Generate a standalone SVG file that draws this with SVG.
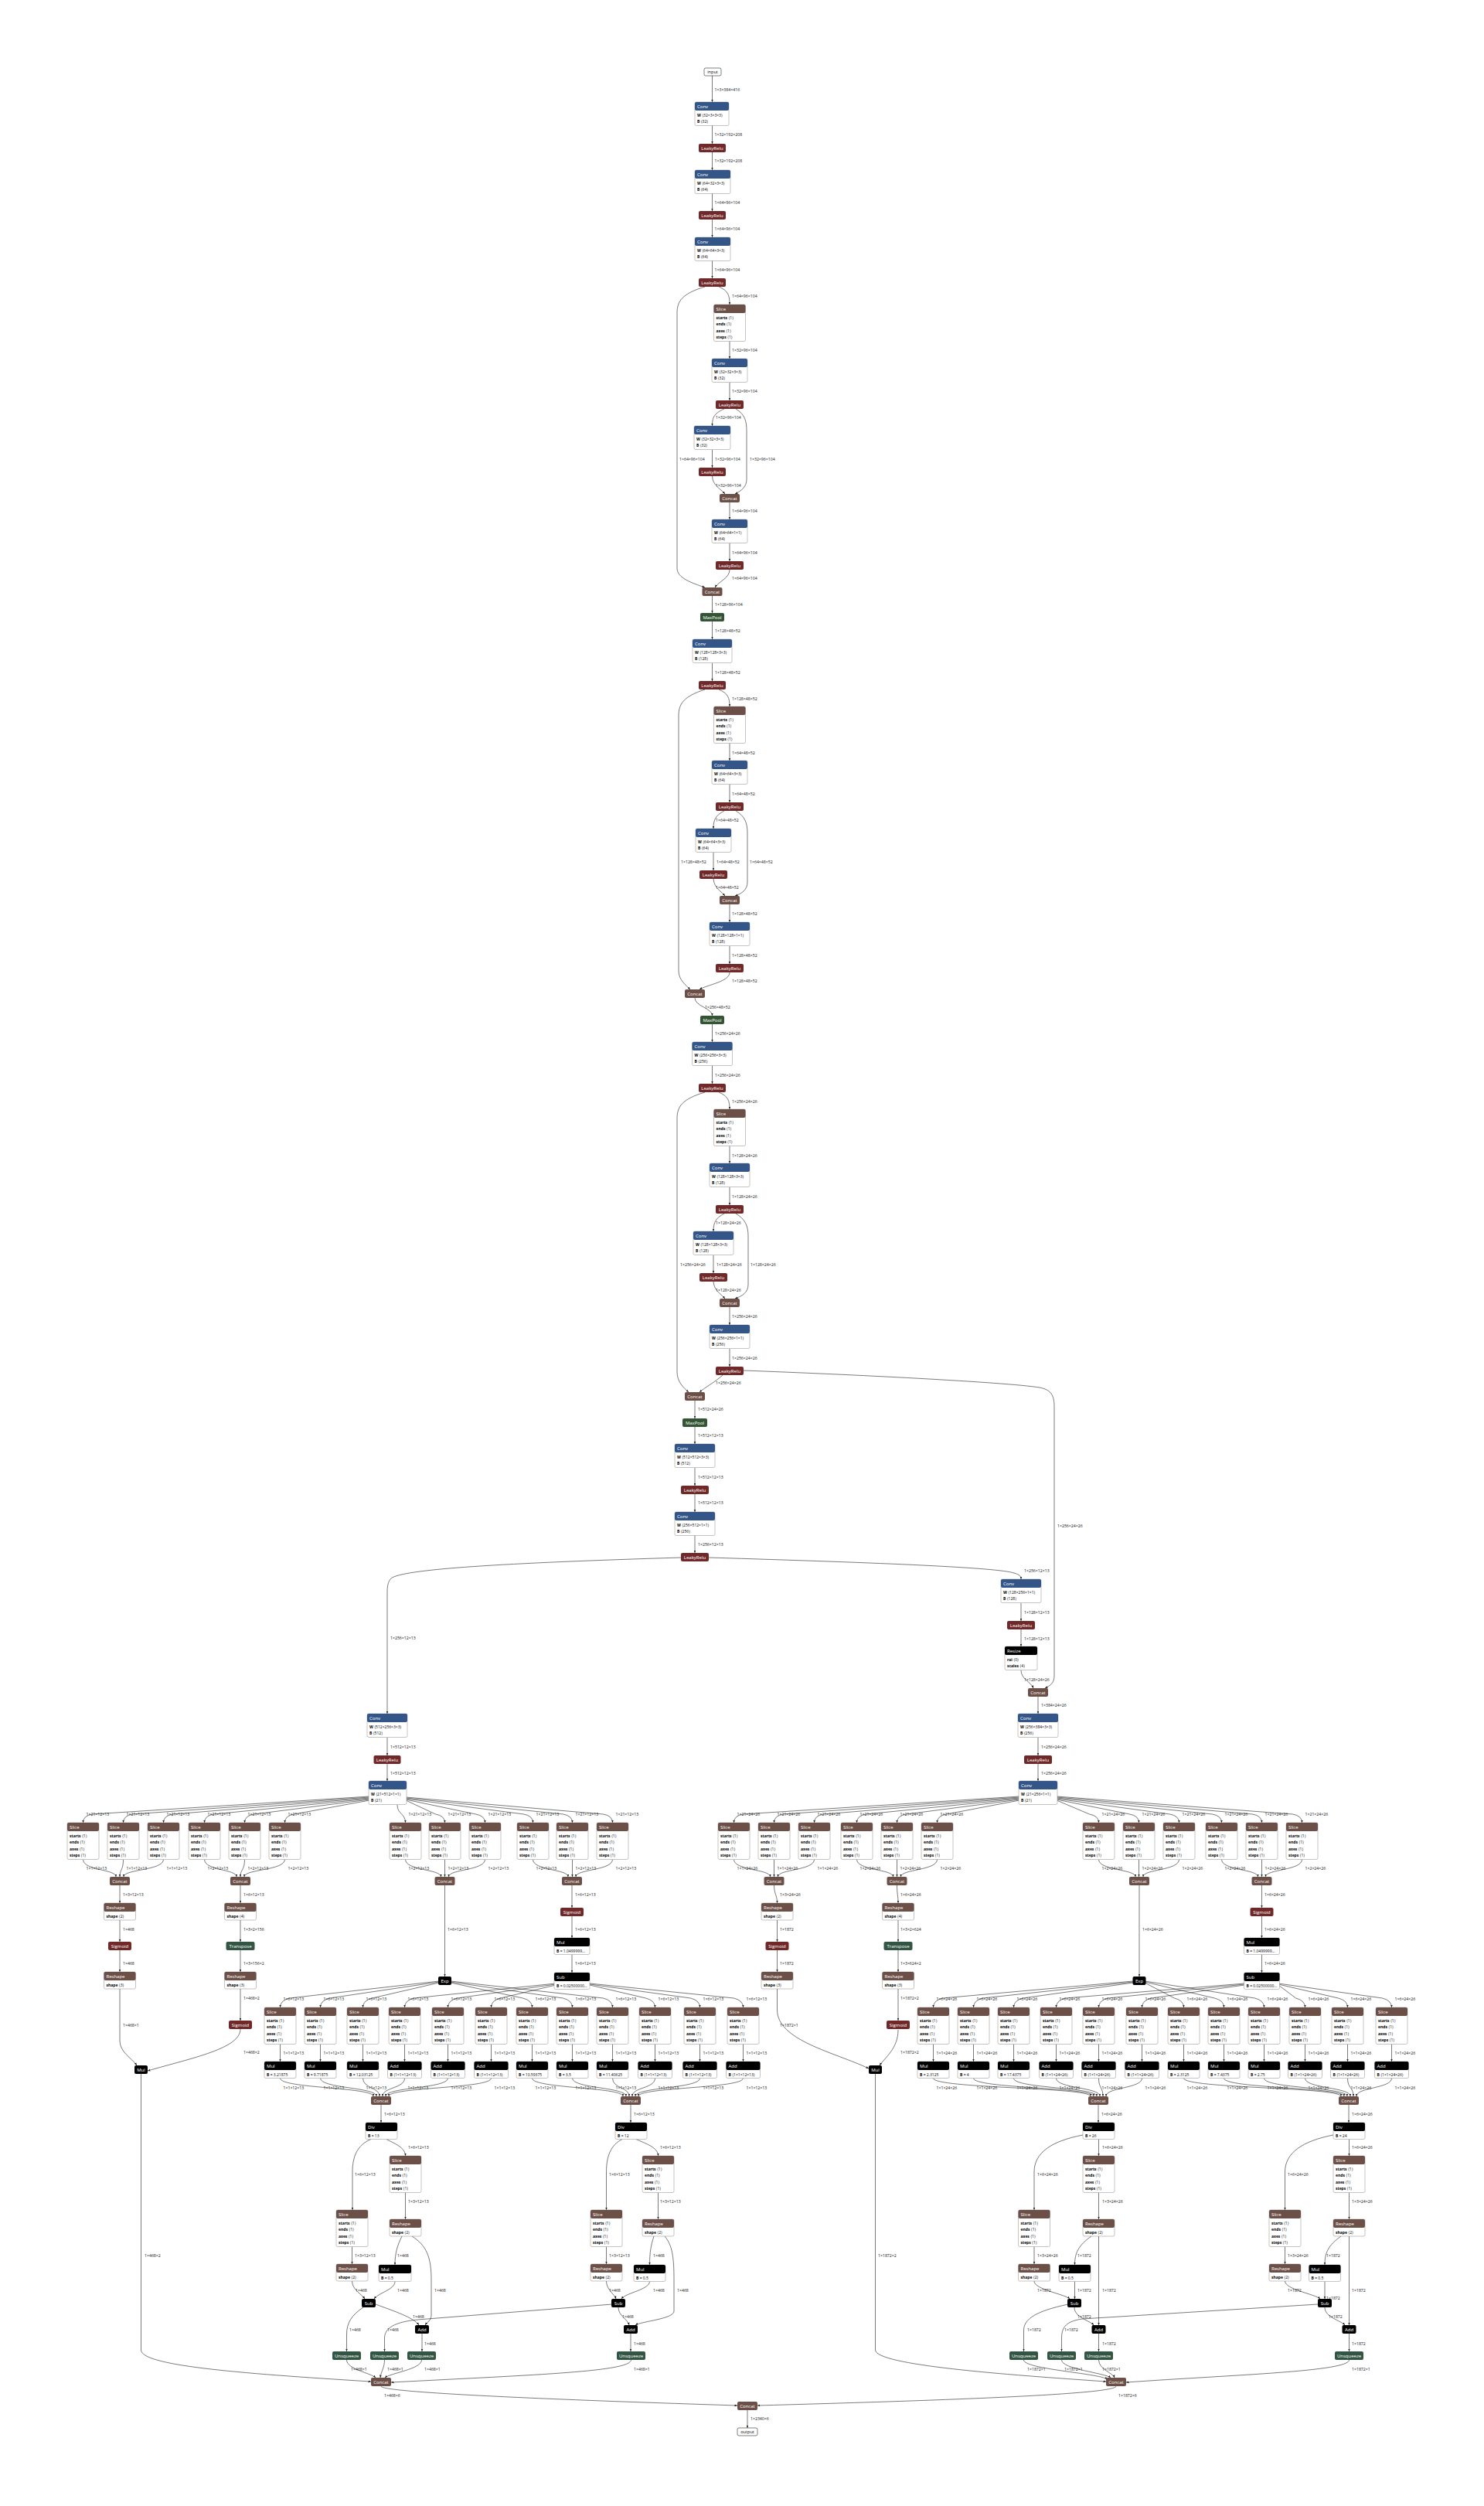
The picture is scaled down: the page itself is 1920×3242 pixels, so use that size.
<svg xmlns="http://www.w3.org/2000/svg" width="1920" height="3242" viewBox="0 0 1920 3242">
<style>
text{font-family:"Open Sans","Liberation Sans","DejaVu Sans",sans-serif}
.t{font-size:6px;fill:#fff}
.c{text-anchor:middle}
.a{font-size:5px;fill:#000}
.k{font-weight:bold}
.l{font-size:5.2px;fill:#111}
.b{fill:#fff;stroke:#888;stroke-width:.5}
.io{fill:#fff;stroke:#000;stroke-width:.5}
.cv{fill:#335588}.ac{fill:#702828}.sh{fill:#6c4f47}.po{fill:#335533}.tf{fill:#335544}.bk{fill:#000}
#edges path{fill:none;stroke:#222;stroke-width:.6;marker-end:url(#ar)}
</style>
<defs><marker id="ar" viewBox="0 0 10 10" refX="10" refY="5" markerWidth="3.5" markerHeight="3.5" markerUnits="userSpaceOnUse" orient="auto"><path d="M0 1L10 5L0 9z" fill="#222"/></marker></defs>
<rect width="1920" height="3242" fill="#fff"/>
<g id="edges">
<path d="M921.5 98V132"/><path d="M921.5 162V186"/><path d="M921.5 197V220"/><path d="M921.5 250V273"/><path d="M921.5 284V307"/><path d="M921.5 337V360"/>
<path d="M930 371C942 376 944 382 944 394"/>
<path d="M912 371C882 380 876 390 876 405V735C876 748 895 754 912 760"/>
<path d="M944 441.5V464"/><path d="M944 495V518"/>
<path d="M937 529C923 535 921.5 541 921.5 551"/>
<path d="M952 529C964 536 966 545 966 558V620C966 630 959 635 951 639"/>
<path d="M921.5 582V605"/>
<path d="M921.5 616C922 628 932 632 938 639"/>
<path d="M944 650V672"/><path d="M944 703V726"/>
<path d="M944 737C944 748 930 752 925 760"/>
<path d="M921.5 771V793"/><path d="M921.5 804V827"/>
<path d="M921.5 858V881"/>
<path d="M930 892C942 897 944 903 944 914"/>
<path d="M912 892C884 901 878 911 878 926V1256C878 1268 888 1275 893 1280"/>
<path d="M944 961.5V984"/><path d="M944 1015V1038"/>
<path d="M937 1049C925 1055 923 1062 923 1072"/>
<path d="M952 1049C964 1056 967 1065 967 1078V1141C967 1151 960 1156 951 1159"/>
<path d="M923 1103V1126"/>
<path d="M923 1137C924 1149 933 1153 938 1159"/>
<path d="M944 1170V1193"/><path d="M944 1224V1247"/>
<path d="M944 1258C944 1270 915 1274 905 1280"/>
<path d="M899 1291C899 1302 921.5 1304 921.5 1314"/>
<path d="M921.5 1325V1348"/>
<path d="M921.5 1379V1402"/>
<path d="M930 1413C942 1418 944 1424 944 1435"/>
<path d="M912 1413C882 1422 876 1432 876 1447V1775C876 1788 885 1796 891 1801"/>
<path d="M944 1482.5V1505"/><path d="M944 1536V1559"/>
<path d="M937 1570C925 1576 923 1583 923 1593"/>
<path d="M952 1570C964 1577 968 1586 968 1599V1662C968 1672 960 1677 951 1680"/>
<path d="M923 1624V1647"/>
<path d="M923 1658C924 1670 933 1674 938 1680"/>
<path d="M944 1691V1714"/><path d="M944 1745V1768"/>
<path d="M935 1779C925 1788 912 1795 905 1801"/>
<path d="M962 1773C1100 1778 1300 1788 1345 1795C1360 1798 1364 1805 1364 1820V2168C1364 2178 1358 2181 1352 2184"/>
<path d="M899 1812V1835"/><path d="M899 1846V1868"/><path d="M899 1899V1922"/><path d="M899 1933V1956"/><path d="M899 1986V2009"/>
<path d="M881 2015C650 2022 520 2030 506 2042C502 2046 501 2052 501 2060V2217"/>
<path d="M917 2015C1150 2022 1290 2028 1312 2035C1319 2037 1321 2039 1321 2043"/>
<path d="M501 2248V2271"/><path d="M501 2282V2304"/>
<path d="M1321 2074V2097"/><path d="M1321 2108V2130"/>
<path d="M1321 2161C1321 2172 1334 2176 1337 2184"/>
<path d="M1343 2195V2217"/><path d="M1343 2248V2271"/><path d="M1343 2282V2304"/>
<path d="M478 2324L119.5 2347Q107.5 2349 107.5 2358"/>
<path d="M478 2325L171.5 2347Q159.5 2349 159.5 2358"/>
<path d="M478 2326L223.5 2347Q211.5 2349 211.5 2358"/>
<path d="M478 2327L276.5 2347Q264.5 2349 264.5 2358"/>
<path d="M478 2328L328.5 2347Q316.5 2349 316.5 2358"/>
<path d="M478 2329L380.5 2347Q368.5 2349 368.5 2358"/>
<path d="M514 2335C514 2347 524.5 2346 524.5 2358"/>
<path d="M525 2329L563.5 2347Q575.5 2349 575.5 2358"/>
<path d="M525 2328L615.5 2347Q627.5 2349 627.5 2358"/>
<path d="M525 2327L677.5 2347Q689.5 2349 689.5 2358"/>
<path d="M525 2326L728.5 2347Q740.5 2349 740.5 2358"/>
<path d="M525 2325L780.5 2347Q792.5 2349 792.5 2358"/>
<path d="M1319 2324L961.5 2347Q949.5 2349 949.5 2358"/>
<path d="M1319 2325L1013.5 2347Q1001.5 2349 1001.5 2358"/>
<path d="M1319 2326L1065.5 2347Q1053.5 2349 1053.5 2358"/>
<path d="M1319 2327L1120.5 2347Q1108.5 2349 1108.5 2358"/>
<path d="M1319 2328L1172.5 2347Q1160.5 2349 1160.5 2358"/>
<path d="M1319 2329L1224.5 2347Q1212.5 2349 1212.5 2358"/>
<path d="M1367 2329L1409.5 2347Q1421.5 2349 1421.5 2358"/>
<path d="M1367 2328L1461.5 2347Q1473.5 2349 1473.5 2358"/>
<path d="M1367 2327L1513.5 2347Q1525.5 2349 1525.5 2358"/>
<path d="M1367 2326L1568.5 2347Q1580.5 2349 1580.5 2358"/>
<path d="M1367 2325L1620.5 2347Q1632.5 2349 1632.5 2358"/>
<path d="M1367 2324L1672.5 2347Q1684.5 2349 1684.5 2358"/>
<path d="M107.5 2405.5C107.5 2420 150 2418 150 2428"/>
<path d="M159.5 2405.5C159.5 2420 155 2418 155 2428"/>
<path d="M211.5 2405.5C211.5 2420 160 2418 160 2428"/>
<path d="M264.5 2405.5C264.5 2420 306 2418 306 2428"/>
<path d="M316.5 2405.5C316.5 2420 311 2418 311 2428"/>
<path d="M368.5 2405.5C368.5 2420 316 2418 316 2428"/>
<path d="M524.5 2405.5C524.5 2420 570.5 2418 570.5 2428"/>
<path d="M575.5 2405.5V2428"/>
<path d="M627.5 2405.5C627.5 2420 580.5 2418 580.5 2428"/>
<path d="M689.5 2405.5C689.5 2420 735 2418 735 2428"/>
<path d="M740.5 2405.5V2428"/>
<path d="M792.5 2405.5C792.5 2420 745 2418 745 2428"/>
<path d="M949.5 2405.5C949.5 2420 996.5 2418 996.5 2428"/>
<path d="M1001.5 2405.5V2428"/>
<path d="M1053.5 2405.5C1053.5 2420 1006.5 2418 1006.5 2428"/>
<path d="M1108.5 2405.5C1108.5 2420 1155.5 2418 1155.5 2428"/>
<path d="M1160.5 2405.5V2428"/>
<path d="M1212.5 2405.5C1212.5 2420 1165.5 2418 1165.5 2428"/>
<path d="M1421.5 2405.5C1421.5 2420 1469 2418 1469 2428"/>
<path d="M1473.5 2405.5V2428"/>
<path d="M1525.5 2405.5C1525.5 2420 1479 2418 1479 2428"/>
<path d="M1580.5 2405.5C1580.5 2420 1627.5 2418 1627.5 2428"/>
<path d="M1632.5 2405.5V2428"/>
<path d="M1684.5 2405.5C1684.5 2420 1637.5 2418 1637.5 2428"/>
<path d="M155 2439V2462"/><path d="M155 2484V2512"/><path d="M155 2523V2551"/>
<path d="M155 2573V2640C155 2655 170 2662 177 2672"/>
<path d="M311 2439V2462"/><path d="M311 2484V2512"/><path d="M311 2523V2551"/><path d="M311 2573V2614"/>
<path d="M311 2625C311 2650 250 2662 191 2679"/>
<path d="M575.5 2439V2557"/>
<path d="M740 2439V2468"/><path d="M740 2479V2507"/><path d="M740 2528.5V2552"/>
<path d="M182.5 2683V3040C182.5 3060 300 3070 480 3081"/>
<path d="M1001.5 2439C1001.5 2450 1005.5 2452 1005.5 2462"/>
<path d="M1005.5 2484V2512"/><path d="M1005.5 2523V2551"/>
<path d="M1005.5 2573V2600C1005.5 2640 1080 2655 1124 2676"/>
<path d="M1160.5 2439C1160.5 2450 1162 2452 1162 2462"/>
<path d="M1162 2484V2512"/><path d="M1162 2523V2551"/><path d="M1162 2573V2614"/>
<path d="M1162 2626C1162 2650 1145 2662 1138 2672"/>
<path d="M1474 2439V2557"/>
<path d="M1632.5 2439V2468"/><path d="M1632.5 2479V2507"/><path d="M1632.5 2528.5V2552"/>
<path d="M1132.5 2683V3040C1132.5 3060 1300 3072 1431 3081"/>
<path d="M568 2563L374.5 2585Q362.5 2588 362.5 2597"/>
<path d="M568 2564L426.5 2585Q414.5 2588 414.5 2597"/>
<path d="M568 2565L481.5 2585Q469.5 2588 469.5 2597"/>
<path d="M583 2565L676.5 2585Q688.5 2588 688.5 2597"/>
<path d="M583 2564L728.5 2585Q740.5 2588 740.5 2597"/>
<path d="M583 2563L780.5 2585Q792.5 2588 792.5 2597"/>
<path d="M719 2566L535.5 2585Q523.5 2588 523.5 2597"/>
<path d="M719 2567L591.5 2585Q579.5 2588 579.5 2597"/>
<path d="M719 2568L647.5 2585Q635.5 2588 635.5 2597"/>
<path d="M763 2568L835.5 2585Q847.5 2588 847.5 2597"/>
<path d="M763 2567L893.5 2585Q905.5 2588 905.5 2597"/>
<path d="M763 2566L949.5 2585Q961.5 2588 961.5 2597"/>
<path d="M1466 2563L1219.5 2585Q1207.5 2588 1207.5 2597"/>
<path d="M1466 2564L1271.5 2585Q1259.5 2588 1259.5 2597"/>
<path d="M1466 2565L1323.5 2585Q1311.5 2588 1311.5 2597"/>
<path d="M1481 2565L1519.5 2585Q1531.5 2588 1531.5 2597"/>
<path d="M1481 2564L1571.5 2585Q1583.5 2588 1583.5 2597"/>
<path d="M1481 2563L1623.5 2585Q1635.5 2588 1635.5 2597"/>
<path d="M1610 2566L1378.5 2585Q1366.5 2588 1366.5 2597"/>
<path d="M1610 2567L1433.5 2585Q1421.5 2588 1421.5 2597"/>
<path d="M1610 2568L1489.5 2585Q1477.5 2588 1477.5 2597"/>
<path d="M1654 2568L1676.5 2585Q1688.5 2588 1688.5 2597"/>
<path d="M1654 2567L1731.5 2585Q1743.5 2588 1743.5 2597"/>
<path d="M1654 2566L1788.5 2585Q1800.5 2588 1800.5 2597"/>
<path d="M362.5 2644.5V2667"/><path d="M414.5 2644.5V2667"/><path d="M469.5 2644.5V2667"/><path d="M523.5 2644.5V2667"/><path d="M579.5 2644.5V2667"/><path d="M635.5 2644.5V2667"/><path d="M688.5 2644.5V2667"/><path d="M740.5 2644.5V2667"/><path d="M792.5 2644.5V2667"/><path d="M847.5 2644.5V2667"/><path d="M905.5 2644.5V2667"/><path d="M961.5 2644.5V2667"/>
<path d="M1207.5 2644.5V2667"/><path d="M1259.5 2644.5V2667"/><path d="M1311.5 2644.5V2667"/><path d="M1366.5 2644.5V2667"/><path d="M1421.5 2644.5V2667"/><path d="M1477.5 2644.5V2667"/><path d="M1531.5 2644.5V2667"/><path d="M1583.5 2644.5V2667"/><path d="M1635.5 2644.5V2667"/><path d="M1688.5 2644.5V2667"/><path d="M1743.5 2644.5V2667"/><path d="M1800.5 2644.5V2667"/>
<path d="M362.5 2688.5C362.5 2702 483 2700 483 2712"/>
<path d="M414.5 2688.5C414.5 2702 487 2700 487 2712"/>
<path d="M469.5 2688.5C469.5 2702 491 2700 491 2712"/>
<path d="M523.5 2688.5C523.5 2702 495 2700 495 2712"/>
<path d="M579.5 2688.5C579.5 2702 499 2700 499 2712"/>
<path d="M635.5 2688.5C635.5 2702 503 2700 503 2712"/>
<path d="M688.5 2688.5C688.5 2702 806 2700 806 2712"/>
<path d="M740.5 2688.5C740.5 2702 810 2700 810 2712"/>
<path d="M792.5 2688.5C792.5 2702 814 2700 814 2712"/>
<path d="M847.5 2688.5C847.5 2702 818 2700 818 2712"/>
<path d="M905.5 2688.5C905.5 2702 822 2700 822 2712"/>
<path d="M961.5 2688.5C961.5 2702 826 2700 826 2712"/>
<path d="M1207.5 2688.5C1207.5 2702 1411 2700 1411 2712"/>
<path d="M1259.5 2688.5C1259.5 2702 1415 2700 1415 2712"/>
<path d="M1311.5 2688.5C1311.5 2702 1419 2700 1419 2712"/>
<path d="M1366.5 2688.5C1366.5 2702 1423 2700 1423 2712"/>
<path d="M1421.5 2688.5C1421.5 2702 1427 2700 1427 2712"/>
<path d="M1477.5 2688.5C1477.5 2702 1431 2700 1431 2712"/>
<path d="M1531.5 2688.5C1531.5 2702 1735 2700 1735 2712"/>
<path d="M1583.5 2688.5C1583.5 2702 1739 2700 1739 2712"/>
<path d="M1635.5 2688.5C1635.5 2702 1743 2700 1743 2712"/>
<path d="M1688.5 2688.5C1688.5 2702 1747 2700 1747 2712"/>
<path d="M1743.5 2688.5C1743.5 2702 1751 2700 1751 2712"/>
<path d="M1800.5 2688.5C1800.5 2702 1755 2700 1755 2712"/>
<path d="M493 2723V2746"/><path d="M816 2723V2746"/><path d="M1421 2723V2746"/><path d="M1745 2723V2746"/>
<path d="M500 2767.5C510 2773 524.5 2778 524.5 2789"/>
<path d="M480 2767.5C462 2775 456 2790 456 2810V2859"/>
<path d="M524.5 2836.5V2871"/><path d="M455.5 2906.5V2929"/>
<path d="M520 2893C514 2905 511 2915 511 2930"/>
<path d="M533 2893C552 2905 558 2920 558 2950V2995C558 3002 552 3005 550 3008"/>
<path d="M455.5 2951C455.5 2962 468 2968 472 2974"/>
<path d="M511 2951.5C511 2962 490 2966 484 2974"/>
<path d="M470 2985C455 2995 448.5 3005 448.5 3020V3042"/>
<path d="M486 2981C510 2990 535 2998 542 3008"/>
<path d="M792 2981L540 3001C510 3004 497.5 3012 497.5 3025V3042"/>
<path d="M546 3019V3042"/>
<path d="M448.5 3053C448.5 3065 480 3070 486 3076"/>
<path d="M497.5 3053C497.5 3063 493 3068 492 3076"/>
<path d="M545.5 3053C545.5 3065 505 3070 498 3076"/>
<path d="M816.5 3053C816 3068 700 3072 506 3082"/>
<path d="M493 3087C493 3095 700 3104 954 3112"/>
<path d="M823 2767.5C835 2773 851.5 2778 851.5 2789"/>
<path d="M805 2767.5C790 2775 784.5 2790 784.5 2810V2859"/>
<path d="M851.5 2836.5V2871"/><path d="M784.5 2906.5V2929"/>
<path d="M846 2893C842 2905 840.5 2915 840.5 2930"/>
<path d="M860 2893C870 2905 872 2920 872 2950V2990C872 3000 830 3003 822 3008"/>
<path d="M784.5 2951C784.5 2962 795 2968 797 2974"/>
<path d="M840.5 2951.5C840.5 2962 810 2966 804 2974"/>
<path d="M800 2985C800 2996 812 3000 814 3008"/>
<path d="M816 3019V3042"/>
<path d="M1421.5 2767.5V2789"/>
<path d="M1401 2762C1360 2770 1338 2785 1338 2810V2859"/>
<path d="M1421.5 2836.5V2871"/><path d="M1338 2906.5V2929"/>
<path d="M1412 2893C1395 2905 1390.5 2915 1390.5 2930"/>
<path d="M1421.5 2893V3008"/>
<path d="M1338 2951C1338 2962 1378 2968 1384 2974"/>
<path d="M1390.5 2951.5V2974"/>
<path d="M1390 2985C1390 2998 1410 3002 1415 3008"/>
<path d="M1382 2981C1340 2990 1324.5 3000 1324.5 3015V3042"/>
<path d="M1705 2981L1400 3000C1380 3003 1373.5 3010 1373.5 3025V3042"/>
<path d="M1421.5 3019V3042"/>
<path d="M1324.5 3053C1324.5 3065 1420 3070 1433 3078"/>
<path d="M1373.5 3053C1373.5 3065 1430 3070 1437 3076"/>
<path d="M1421.5 3053C1421.5 3065 1440 3070 1442 3076"/>
<path d="M1745.5 3053C1745.5 3068 1600 3072 1457 3082"/>
<path d="M1444 3087C1444 3098 1200 3106 980 3112"/>
<path d="M967 3118V3141"/>
<path d="M1745.5 2767.5V2789"/>
<path d="M1725 2762C1685 2770 1662.5 2785 1662.5 2810V2859"/>
<path d="M1745.5 2836.5V2871"/><path d="M1662.5 2906.5V2929"/>
<path d="M1735 2893C1718 2905 1714 2915 1714 2930"/>
<path d="M1745.5 2893V3008"/>
<path d="M1662.5 2951C1662.5 2962 1702 2968 1708 2974"/>
<path d="M1714 2951.5V2974"/>
<path d="M1714 2985C1714 2998 1735 3002 1740 3008"/>
<path d="M1745.5 3019V3042"/>
</g>
<g id="edge-labels" class="l">
<text x="924.5" y="118">1×3×384×416</text><text x="924.5" y="176">1×32×192×208</text><text x="924.5" y="210">1×32×192×208</text><text x="924.5" y="264">1×64×96×104</text><text x="924.5" y="298">1×64×96×104</text><text x="924.5" y="351">1×64×96×104</text>
<text x="947" y="385">1×64×96×104</text><text x="879" y="596">1×64×96×104</text><text x="947" y="455">1×32×96×104</text><text x="947" y="508">1×32×96×104</text><text x="926" y="542">1×32×96×104</text><text x="970" y="596">1×32×96×104</text><text x="925" y="596">1×32×96×104</text><text x="926" y="630">1×32×96×104</text><text x="947" y="663">1×64×96×104</text><text x="947" y="717">1×64×96×104</text><text x="947" y="750">1×64×96×104</text><text x="925" y="784">1×128×96×104</text><text x="925" y="818">1×128×48×52</text>
<text x="925" y="872">1×128×48×52</text><text x="947" y="906">1×128×48×52</text><text x="881" y="1117">1×128×48×52</text><text x="947" y="976">1×64×48×52</text><text x="947" y="1029">1×64×48×52</text><text x="926" y="1063">1×64×48×52</text><text x="970" y="1117">1×64×48×52</text><text x="927" y="1117">1×64×48×52</text><text x="926" y="1150">1×64×48×52</text><text x="947" y="1184">1×128×48×52</text><text x="947" y="1238">1×128×48×52</text><text x="947" y="1271">1×128×48×52</text><text x="912" y="1305">1×256×48×52</text><text x="925" y="1339">1×256×24×26</text>
<text x="925" y="1393">1×256×24×26</text><text x="947" y="1427">1×256×24×26</text><text x="880" y="1638">1×256×24×26</text><text x="947" y="1497">1×128×24×26</text><text x="947" y="1550">1×128×24×26</text><text x="926" y="1584">1×128×24×26</text><text x="971" y="1638">1×128×24×26</text><text x="927" y="1638">1×128×24×26</text><text x="926" y="1671">1×128×24×26</text><text x="947" y="1705">1×256×24×26</text><text x="947" y="1759">1×256×24×26</text><text x="926" y="1791">1×256×24×26</text><text x="1368" y="1976">1×256×24×26</text>
<text x="903" y="1825">1×512×24×26</text><text x="903" y="1859">1×512×12×13</text><text x="903" y="1913">1×512×12×13</text><text x="903" y="1946">1×512×12×13</text><text x="903" y="2000">1×256×12×13</text><text x="505" y="2121">1×256×12×13</text><text x="1325" y="2034">1×256×12×13</text>
<text x="505" y="2262">1×512×12×13</text><text x="505" y="2296">1×512×12×13</text><text x="1325" y="2088">1×128×12×13</text><text x="1325" y="2122">1×128×12×13</text><text x="1325" y="2175">1×128×24×26</text><text x="1347" y="2208">1×384×24×26</text><text x="1347" y="2262">1×256×24×26</text><text x="1347" y="2296">1×256×24×26</text>
<text x="111.5" y="2349">1×21×12×13</text><text x="163.5" y="2349">1×21×12×13</text><text x="215.5" y="2349">1×21×12×13</text><text x="268.5" y="2349">1×21×12×13</text><text x="320.5" y="2349">1×21×12×13</text><text x="372.5" y="2349">1×21×12×13</text><text x="528.5" y="2349">1×21×12×13</text><text x="579.5" y="2349">1×21×12×13</text><text x="631.5" y="2349">1×21×12×13</text><text x="693.5" y="2349">1×21×12×13</text><text x="744.5" y="2349">1×21×12×13</text><text x="796.5" y="2349">1×21×12×13</text>
<text x="953.5" y="2349">1×21×24×26</text><text x="1005.5" y="2349">1×21×24×26</text><text x="1057.5" y="2349">1×21×24×26</text><text x="1112.5" y="2349">1×21×24×26</text><text x="1164.5" y="2349">1×21×24×26</text><text x="1216.5" y="2349">1×21×24×26</text><text x="1425.5" y="2349">1×21×24×26</text><text x="1477.5" y="2349">1×21×24×26</text><text x="1529.5" y="2349">1×21×24×26</text><text x="1584.5" y="2349">1×21×24×26</text><text x="1636.5" y="2349">1×21×24×26</text><text x="1688.5" y="2349">1×21×24×26</text>
<text x="111.5" y="2419">1×1×12×13</text><text x="163.5" y="2419">1×1×12×13</text><text x="215.5" y="2419">1×1×12×13</text><text x="268.5" y="2419">1×2×12×13</text><text x="320.5" y="2419">1×2×12×13</text><text x="372.5" y="2419">1×2×12×13</text><text x="528.5" y="2419">1×2×12×13</text><text x="579.5" y="2419">1×2×12×13</text><text x="631.5" y="2419">1×2×12×13</text><text x="693.5" y="2419">1×2×12×13</text><text x="744.5" y="2419">1×2×12×13</text><text x="796.5" y="2419">1×2×12×13</text>
<text x="953.5" y="2419">1×1×24×26</text><text x="1005.5" y="2419">1×1×24×26</text><text x="1057.5" y="2419">1×1×24×26</text><text x="1112.5" y="2419">1×2×24×26</text><text x="1164.5" y="2419">1×2×24×26</text><text x="1216.5" y="2419">1×2×24×26</text><text x="1425.5" y="2419">1×2×24×26</text><text x="1477.5" y="2419">1×2×24×26</text><text x="1529.5" y="2419">1×2×24×26</text><text x="1584.5" y="2419">1×2×24×26</text><text x="1636.5" y="2419">1×2×24×26</text><text x="1688.5" y="2419">1×2×24×26</text>
<text x="159" y="2453">1×3×12×13</text><text x="159" y="2498">1×468</text><text x="159" y="2542">1×468</text><text x="159" y="2622">1×468×1</text>
<text x="315" y="2453">1×6×12×13</text><text x="315" y="2498">1×3×2×156</text><text x="315" y="2542">1×3×156×2</text><text x="315" y="2587">1×468×2</text><text x="315" y="2657">1×468×2</text>
<text x="579" y="2498">1×6×12×13</text><text x="744" y="2453">1×6×12×13</text><text x="744" y="2498">1×6×12×13</text><text x="744" y="2542">1×6×12×13</text><text x="187" y="2920">1×468×2</text>
<text x="1009" y="2453">1×3×24×26</text><text x="1009" y="2498">1×1872</text><text x="1009" y="2542">1×1872</text><text x="1009" y="2622">1×1872×1</text>
<text x="1165" y="2453">1×6×24×26</text><text x="1165" y="2498">1×3×2×624</text><text x="1165" y="2542">1×3×624×2</text><text x="1165" y="2587">1×1872×2</text><text x="1165" y="2657">1×1872×2</text>
<text x="1478" y="2498">1×6×24×26</text><text x="1636" y="2453">1×6×24×26</text><text x="1636" y="2498">1×6×24×26</text><text x="1636" y="2542">1×6×24×26</text><text x="1136" y="2920">1×1872×2</text>
<text x="366.5" y="2588">1×6×12×13</text><text x="418.5" y="2588">1×6×12×13</text><text x="473.5" y="2588">1×6×12×13</text><text x="527.5" y="2588">1×6×12×13</text><text x="583.5" y="2588">1×6×12×13</text><text x="639.5" y="2588">1×6×12×13</text><text x="692.5" y="2588">1×6×12×13</text><text x="744.5" y="2588">1×6×12×13</text><text x="796.5" y="2588">1×6×12×13</text><text x="851.5" y="2588">1×6×12×13</text><text x="909.5" y="2588">1×6×12×13</text><text x="965.5" y="2588">1×6×12×13</text>
<text x="366.5" y="2658">1×1×12×13</text><text x="418.5" y="2658">1×1×12×13</text><text x="473.5" y="2658">1×1×12×13</text><text x="527.5" y="2658">1×1×12×13</text><text x="583.5" y="2658">1×1×12×13</text><text x="639.5" y="2658">1×1×12×13</text><text x="692.5" y="2658">1×1×12×13</text><text x="744.5" y="2658">1×1×12×13</text><text x="796.5" y="2658">1×1×12×13</text><text x="851.5" y="2658">1×1×12×13</text><text x="909.5" y="2658">1×1×12×13</text><text x="965.5" y="2658">1×1×12×13</text>
<text x="366.5" y="2703">1×1×12×13</text><text x="418.5" y="2703">1×1×12×13</text><text x="473.5" y="2703">1×1×12×13</text><text x="527.5" y="2703">1×1×12×13</text><text x="583.5" y="2703">1×1×12×13</text><text x="639.5" y="2703">1×1×12×13</text><text x="692.5" y="2703">1×1×12×13</text><text x="744.5" y="2703">1×1×12×13</text><text x="796.5" y="2703">1×1×12×13</text><text x="851.5" y="2703">1×1×12×13</text><text x="909.5" y="2703">1×1×12×13</text><text x="965.5" y="2703">1×1×12×13</text>
<text x="1211.5" y="2588">1×6×24×26</text><text x="1263.5" y="2588">1×6×24×26</text><text x="1315.5" y="2588">1×6×24×26</text><text x="1370.5" y="2588">1×6×24×26</text><text x="1425.5" y="2588">1×6×24×26</text><text x="1481.5" y="2588">1×6×24×26</text><text x="1535.5" y="2588">1×6×24×26</text><text x="1587.5" y="2588">1×6×24×26</text><text x="1639.5" y="2588">1×6×24×26</text><text x="1692.5" y="2588">1×6×24×26</text><text x="1747.5" y="2588">1×6×24×26</text><text x="1804.5" y="2588">1×6×24×26</text>
<text x="1211.5" y="2658">1×1×24×26</text><text x="1263.5" y="2658">1×1×24×26</text><text x="1315.5" y="2658">1×1×24×26</text><text x="1370.5" y="2658">1×1×24×26</text><text x="1425.5" y="2658">1×1×24×26</text><text x="1481.5" y="2658">1×1×24×26</text><text x="1535.5" y="2658">1×1×24×26</text><text x="1587.5" y="2658">1×1×24×26</text><text x="1639.5" y="2658">1×1×24×26</text><text x="1692.5" y="2658">1×1×24×26</text><text x="1747.5" y="2658">1×1×24×26</text><text x="1804.5" y="2658">1×1×24×26</text>
<text x="1211.5" y="2703">1×1×24×26</text><text x="1263.5" y="2703">1×1×24×26</text><text x="1315.5" y="2703">1×1×24×26</text><text x="1370.5" y="2703">1×1×24×26</text><text x="1425.5" y="2703">1×1×24×26</text><text x="1481.5" y="2703">1×1×24×26</text><text x="1535.5" y="2703">1×1×24×26</text><text x="1587.5" y="2703">1×1×24×26</text><text x="1639.5" y="2703">1×1×24×26</text><text x="1692.5" y="2703">1×1×24×26</text><text x="1747.5" y="2703">1×1×24×26</text><text x="1804.5" y="2703">1×1×24×26</text>
<text x="497" y="2737">1×6×12×13</text><text x="820" y="2737">1×6×12×13</text><text x="1425" y="2737">1×6×24×26</text><text x="1749" y="2737">1×6×24×26</text>
<text x="528" y="2780">1×6×12×13</text><text x="459" y="2815">1×6×12×13</text><text x="528" y="2850">1×3×12×13</text><text x="459" y="2920">1×3×12×13</text><text x="514" y="2920">1×468</text><text x="562" y="2965">1×468</text><text x="460" y="2965">1×468</text><text x="514" y="2965">1×468</text><text x="452" y="3016">1×468</text><text x="534" y="2999">1×468</text><text x="501" y="3016">1×468</text><text x="549" y="3034">1×468</text><text x="454" y="3067">1×468×1</text><text x="501" y="3067">1×468×1</text><text x="549" y="3067">1×468×1</text><text x="820" y="3067">1×468×1</text><text x="497" y="3101">1×468×6</text>
<text x="854" y="2780">1×6×12×13</text><text x="788" y="2815">1×6×12×13</text><text x="854" y="2850">1×3×12×13</text><text x="788" y="2920">1×3×12×13</text><text x="845" y="2920">1×468</text><text x="876" y="2965">1×468</text><text x="788" y="2965">1×468</text><text x="845" y="2965">1×468</text><text x="805" y="2999">1×468</text><text x="820" y="3034">1×468</text>
<text x="1426" y="2780">1×6×24×26</text><text x="1342" y="2815">1×6×24×26</text><text x="1426" y="2850">1×3×24×26</text><text x="1342" y="2920">1×3×24×26</text><text x="1394" y="2920">1×1872</text><text x="1426" y="2965">1×1872</text><text x="1342" y="2965">1×1872</text><text x="1394" y="2965">1×1872</text><text x="1394" y="2999">1×1872</text><text x="1329" y="3016">1×1872</text><text x="1377" y="3016">1×1872</text><text x="1426" y="3034">1×1872</text><text x="1329" y="3067">1×1872×1</text><text x="1377" y="3067">1×1872×1</text><text x="1426" y="3067">1×1872×1</text><text x="1749" y="3067">1×1872×1</text><text x="1447" y="3101">1×1872×6</text><text x="971" y="3131">1×2340×6</text>
<text x="1749" y="2780">1×6×24×26</text><text x="1666" y="2815">1×6×24×26</text><text x="1749" y="2850">1×3×24×26</text><text x="1666" y="2920">1×3×24×26</text><text x="1716" y="2920">1×1872</text><text x="1749" y="2965">1×1872</text><text x="1666" y="2965">1×1872</text><text x="1716" y="2975">1×1872</text><text x="1719" y="2999">1×1872</text><text x="1749" y="3034">1×1872</text>
</g>
<g id="nodes">
<g id="input" transform="translate(911,88)"><rect class="io" width="22" height="10" rx="2"/><text class="a c" x="11" y="7" style="font-size:5.6px">input</text></g>
<g id="conv1" transform="translate(899,132)"><rect class="b" width="44" height="30.5" rx="2"/><rect class="cv" width="44" height="11" rx="2"/><text class="t" x="3" y="8">Conv</text><text class="a" x="3" y="19"><tspan class="k">W</tspan> ⟨32×3×3×3⟩</text><text class="a" x="3" y="27.2"><tspan class="k">B</tspan> ⟨32⟩</text></g>
<g id="lr1" transform="translate(904,186)"><rect class="ac" width="35" height="11" rx="2"/><text class="t c" x="17.5" y="8">LeakyRelu</text></g>
<g id="conv2" transform="translate(899,220)"><rect class="b" width="46" height="30.5" rx="2"/><rect class="cv" width="46" height="11" rx="2"/><text class="t" x="3" y="8">Conv</text><text class="a" x="3" y="19"><tspan class="k">W</tspan> ⟨64×32×3×3⟩</text><text class="a" x="3" y="27.2"><tspan class="k">B</tspan> ⟨64⟩</text></g>
<g id="lr2" transform="translate(904,273)"><rect class="ac" width="35" height="11" rx="2"/><text class="t c" x="17.5" y="8">LeakyRelu</text></g>
<g id="conv3" transform="translate(899,307)"><rect class="b" width="46" height="30.5" rx="2"/><rect class="cv" width="46" height="11" rx="2"/><text class="t" x="3" y="8">Conv</text><text class="a" x="3" y="19"><tspan class="k">W</tspan> ⟨64×64×3×3⟩</text><text class="a" x="3" y="27.2"><tspan class="k">B</tspan> ⟨64⟩</text></g>
<g id="lr3" transform="translate(904,360)"><rect class="ac" width="35" height="11" rx="2"/><text class="t c" x="17.5" y="8">LeakyRelu</text></g>
<g id="sl1" transform="translate(923.5,394)"><rect class="b" width="41" height="47.5" rx="2"/><rect class="sh" width="41" height="11" rx="2"/><text class="t" x="3" y="8">Slice</text><text class="a" x="3" y="19"><tspan class="k">starts</tspan> ⟨1⟩</text><text class="a" x="3" y="27.3"><tspan class="k">ends</tspan> ⟨1⟩</text><text class="a" x="3" y="35.6"><tspan class="k">axes</tspan> ⟨1⟩</text><text class="a" x="3" y="43.9"><tspan class="k">steps</tspan> ⟨1⟩</text></g>
<g id="cv1a" transform="translate(921,464)"><rect class="b" width="46" height="30.5" rx="2"/><rect class="cv" width="46" height="11" rx="2"/><text class="t" x="3" y="8">Conv</text><text class="a" x="3" y="19"><tspan class="k">W</tspan> ⟨32×32×3×3⟩</text><text class="a" x="3" y="27.2"><tspan class="k">B</tspan> ⟨32⟩</text></g>
<g id="lr1a" transform="translate(926,518)"><rect class="ac" width="36" height="11" rx="2"/><text class="t c" x="18" y="8">LeakyRelu</text></g>
<g id="cv1b" transform="translate(898,551)"><rect class="b" width="47" height="30.5" rx="2"/><rect class="cv" width="47" height="11" rx="2"/><text class="t" x="3" y="8">Conv</text><text class="a" x="3" y="19"><tspan class="k">W</tspan> ⟨32×32×3×3⟩</text><text class="a" x="3" y="27.2"><tspan class="k">B</tspan> ⟨32⟩</text></g>
<g id="lr1b" transform="translate(904,605)"><rect class="ac" width="35" height="11" rx="2"/><text class="t c" x="17.5" y="8">LeakyRelu</text></g>
<g id="cc1" transform="translate(931,639)"><rect class="sh" width="26" height="11" rx="2"/><text class="t c" x="13" y="8">Concat</text></g>
<g id="cv1c" transform="translate(921,672)"><rect class="b" width="46" height="30.5" rx="2"/><rect class="cv" width="46" height="11" rx="2"/><text class="t" x="3" y="8">Conv</text><text class="a" x="3" y="19"><tspan class="k">W</tspan> ⟨64×64×1×1⟩</text><text class="a" x="3" y="27.2"><tspan class="k">B</tspan> ⟨64⟩</text></g>
<g id="lr1c" transform="translate(926,726)"><rect class="ac" width="36" height="11" rx="2"/><text class="t c" x="18" y="8">LeakyRelu</text></g>
<g id="cc1f" transform="translate(908.5,760)"><rect class="sh" width="26" height="11" rx="2"/><text class="t c" x="13" y="8">Concat</text></g>
<g id="mp1" transform="translate(906,793)"><rect class="po" width="31" height="11" rx="2"/><text class="t c" x="15.5" y="8">MaxPool</text></g>
<g id="cv2p" transform="translate(896,827)"><rect class="b" width="51" height="30.5" rx="2"/><rect class="cv" width="51" height="11" rx="2"/><text class="t" x="3" y="8">Conv</text><text class="a" x="3" y="19"><tspan class="k">W</tspan> ⟨128×128×3×3⟩</text><text class="a" x="3" y="27.2"><tspan class="k">B</tspan> ⟨128⟩</text></g>
<g id="lr2p" transform="translate(904,881)"><rect class="ac" width="35" height="11" rx="2"/><text class="t c" x="17.5" y="8">LeakyRelu</text></g>
<g id="sl2" transform="translate(923.5,914)"><rect class="b" width="41" height="47.5" rx="2"/><rect class="sh" width="41" height="11" rx="2"/><text class="t" x="3" y="8">Slice</text><text class="a" x="3" y="19"><tspan class="k">starts</tspan> ⟨1⟩</text><text class="a" x="3" y="27.3"><tspan class="k">ends</tspan> ⟨1⟩</text><text class="a" x="3" y="35.6"><tspan class="k">axes</tspan> ⟨1⟩</text><text class="a" x="3" y="43.9"><tspan class="k">steps</tspan> ⟨1⟩</text></g>
<g id="cv2a" transform="translate(921,984)"><rect class="b" width="46" height="30.5" rx="2"/><rect class="cv" width="46" height="11" rx="2"/><text class="t" x="3" y="8">Conv</text><text class="a" x="3" y="19"><tspan class="k">W</tspan> ⟨64×64×3×3⟩</text><text class="a" x="3" y="27.2"><tspan class="k">B</tspan> ⟨64⟩</text></g>
<g id="lr2a" transform="translate(926,1038)"><rect class="ac" width="36" height="11" rx="2"/><text class="t c" x="18" y="8">LeakyRelu</text></g>
<g id="cv2b" transform="translate(900,1072)"><rect class="b" width="46" height="30.5" rx="2"/><rect class="cv" width="46" height="11" rx="2"/><text class="t" x="3" y="8">Conv</text><text class="a" x="3" y="19"><tspan class="k">W</tspan> ⟨64×64×3×3⟩</text><text class="a" x="3" y="27.2"><tspan class="k">B</tspan> ⟨64⟩</text></g>
<g id="lr2b" transform="translate(905,1126)"><rect class="ac" width="36" height="11" rx="2"/><text class="t c" x="18" y="8">LeakyRelu</text></g>
<g id="cc2" transform="translate(931,1159)"><rect class="sh" width="26" height="11" rx="2"/><text class="t c" x="13" y="8">Concat</text></g>
<g id="cv2c" transform="translate(918,1193)"><rect class="b" width="52" height="30.5" rx="2"/><rect class="cv" width="52" height="11" rx="2"/><text class="t" x="3" y="8">Conv</text><text class="a" x="3" y="19"><tspan class="k">W</tspan> ⟨128×128×1×1⟩</text><text class="a" x="3" y="27.2"><tspan class="k">B</tspan> ⟨128⟩</text></g>
<g id="lr2c" transform="translate(926,1247)"><rect class="ac" width="36" height="11" rx="2"/><text class="t c" x="18" y="8">LeakyRelu</text></g>
<g id="cc2f" transform="translate(886,1280)"><rect class="sh" width="26" height="11" rx="2"/><text class="t c" x="13" y="8">Concat</text></g>
<g id="mp2" transform="translate(906,1314)"><rect class="po" width="31" height="11" rx="2"/><text class="t c" x="15.5" y="8">MaxPool</text></g>
<g id="cv3p" transform="translate(895.5,1348)"><rect class="b" width="52" height="30.5" rx="2"/><rect class="cv" width="52" height="11" rx="2"/><text class="t" x="3" y="8">Conv</text><text class="a" x="3" y="19"><tspan class="k">W</tspan> ⟨256×256×3×3⟩</text><text class="a" x="3" y="27.2"><tspan class="k">B</tspan> ⟨256⟩</text></g>
<g id="lr3p" transform="translate(904,1402)"><rect class="ac" width="35" height="11" rx="2"/><text class="t c" x="17.5" y="8">LeakyRelu</text></g>
<g id="sl3" transform="translate(923.5,1435)"><rect class="b" width="41" height="47.5" rx="2"/><rect class="sh" width="41" height="11" rx="2"/><text class="t" x="3" y="8">Slice</text><text class="a" x="3" y="19"><tspan class="k">starts</tspan> ⟨1⟩</text><text class="a" x="3" y="27.3"><tspan class="k">ends</tspan> ⟨1⟩</text><text class="a" x="3" y="35.6"><tspan class="k">axes</tspan> ⟨1⟩</text><text class="a" x="3" y="43.9"><tspan class="k">steps</tspan> ⟨1⟩</text></g>
<g id="cv3a" transform="translate(918,1505)"><rect class="b" width="52" height="30.5" rx="2"/><rect class="cv" width="52" height="11" rx="2"/><text class="t" x="3" y="8">Conv</text><text class="a" x="3" y="19"><tspan class="k">W</tspan> ⟨128×128×3×3⟩</text><text class="a" x="3" y="27.2"><tspan class="k">B</tspan> ⟨128⟩</text></g>
<g id="lr3a" transform="translate(926,1559)"><rect class="ac" width="36" height="11" rx="2"/><text class="t c" x="18" y="8">LeakyRelu</text></g>
<g id="cv3b" transform="translate(897,1593)"><rect class="b" width="52" height="30.5" rx="2"/><rect class="cv" width="52" height="11" rx="2"/><text class="t" x="3" y="8">Conv</text><text class="a" x="3" y="19"><tspan class="k">W</tspan> ⟨128×128×3×3⟩</text><text class="a" x="3" y="27.2"><tspan class="k">B</tspan> ⟨128⟩</text></g>
<g id="lr3b" transform="translate(905,1647)"><rect class="ac" width="36" height="11" rx="2"/><text class="t c" x="18" y="8">LeakyRelu</text></g>
<g id="cc3" transform="translate(931,1680)"><rect class="sh" width="26" height="11" rx="2"/><text class="t c" x="13" y="8">Concat</text></g>
<g id="cv3c" transform="translate(918,1714)"><rect class="b" width="52" height="30.5" rx="2"/><rect class="cv" width="52" height="11" rx="2"/><text class="t" x="3" y="8">Conv</text><text class="a" x="3" y="19"><tspan class="k">W</tspan> ⟨256×256×1×1⟩</text><text class="a" x="3" y="27.2"><tspan class="k">B</tspan> ⟨256⟩</text></g>
<g id="lr3c" transform="translate(926,1768)"><rect class="ac" width="36" height="11" rx="2"/><text class="t c" x="18" y="8">LeakyRelu</text></g>
<g id="cc3f" transform="translate(886,1801)"><rect class="sh" width="26" height="11" rx="2"/><text class="t c" x="13" y="8">Concat</text></g>
<g id="mp3" transform="translate(883,1835)"><rect class="po" width="32" height="11" rx="2"/><text class="t c" x="16" y="8">MaxPool</text></g>
<g id="cv4" transform="translate(873,1868)"><rect class="b" width="52" height="30.5" rx="2"/><rect class="cv" width="52" height="11" rx="2"/><text class="t" x="3" y="8">Conv</text><text class="a" x="3" y="19"><tspan class="k">W</tspan> ⟨512×512×3×3⟩</text><text class="a" x="3" y="27.2"><tspan class="k">B</tspan> ⟨512⟩</text></g>
<g id="lr4" transform="translate(881,1922)"><rect class="ac" width="36" height="11" rx="2"/><text class="t c" x="18" y="8">LeakyRelu</text></g>
<g id="cv5" transform="translate(873,1956)"><rect class="b" width="52" height="30.5" rx="2"/><rect class="cv" width="52" height="11" rx="2"/><text class="t" x="3" y="8">Conv</text><text class="a" x="3" y="19"><tspan class="k">W</tspan> ⟨256×512×1×1⟩</text><text class="a" x="3" y="27.2"><tspan class="k">B</tspan> ⟨256⟩</text></g>
<g id="lr5" transform="translate(881,2009)"><rect class="ac" width="36" height="11" rx="2"/><text class="t c" x="18" y="8">LeakyRelu</text></g>
<g id="cvL1" transform="translate(475,2217)"><rect class="b" width="52" height="30.5" rx="2"/><rect class="cv" width="52" height="11" rx="2"/><text class="t" x="3" y="8">Conv</text><text class="a" x="3" y="19"><tspan class="k">W</tspan> ⟨512×256×3×3⟩</text><text class="a" x="3" y="27.2"><tspan class="k">B</tspan> ⟨512⟩</text></g>
<g id="lrL1" transform="translate(483.5,2271)"><rect class="ac" width="35" height="11" rx="2"/><text class="t c" x="17.5" y="8">LeakyRelu</text></g>
<g id="cvL2" transform="translate(477,2304)"><rect class="b" width="49" height="30.5" rx="2"/><rect class="cv" width="49" height="11" rx="2"/><text class="t" x="3" y="8">Conv</text><text class="a" x="3" y="19"><tspan class="k">W</tspan> ⟨21×512×1×1⟩</text><text class="a" x="3" y="27.2"><tspan class="k">B</tspan> ⟨21⟩</text></g>
<g id="cvR0" transform="translate(1295,2043)"><rect class="b" width="52" height="30.5" rx="2"/><rect class="cv" width="52" height="11" rx="2"/><text class="t" x="3" y="8">Conv</text><text class="a" x="3" y="19"><tspan class="k">W</tspan> ⟨128×256×1×1⟩</text><text class="a" x="3" y="27.2"><tspan class="k">B</tspan> ⟨128⟩</text></g>
<g id="lrR0" transform="translate(1303,2097)"><rect class="ac" width="36" height="11" rx="2"/><text class="t c" x="18" y="8">LeakyRelu</text></g>
<g id="rsz" transform="translate(1300,2130)"><rect class="b" width="42" height="30.5" rx="2"/><rect class="bk" width="42" height="11" rx="2"/><text class="t" x="3" y="8">Resize</text><text class="a" x="3" y="19"><tspan class="k">roi</tspan> ⟨0⟩</text><text class="a" x="3" y="27.2"><tspan class="k">scales</tspan> ⟨4⟩</text></g>
<g id="ccR" transform="translate(1330,2184)"><rect class="sh" width="26" height="11" rx="2"/><text class="t c" x="13" y="8">Concat</text></g>
<g id="cvR1" transform="translate(1317,2217)"><rect class="b" width="52" height="30.5" rx="2"/><rect class="cv" width="52" height="11" rx="2"/><text class="t" x="3" y="8">Conv</text><text class="a" x="3" y="19"><tspan class="k">W</tspan> ⟨256×384×3×3⟩</text><text class="a" x="3" y="27.2"><tspan class="k">B</tspan> ⟨256⟩</text></g>
<g id="lrR1" transform="translate(1325,2271)"><rect class="ac" width="36" height="11" rx="2"/><text class="t c" x="18" y="8">LeakyRelu</text></g>
<g id="cvR2" transform="translate(1318,2304)"><rect class="b" width="50" height="30.5" rx="2"/><rect class="cv" width="50" height="11" rx="2"/><text class="t" x="3" y="8">Conv</text><text class="a" x="3" y="19"><tspan class="k">W</tspan> ⟨21×256×1×1⟩</text><text class="a" x="3" y="27.2"><tspan class="k">B</tspan> ⟨21⟩</text></g>
</g>
<g id="slices">
<g id="sA1" transform="translate(87,2358)"><rect class="b" width="41" height="47.5" rx="2"/><rect class="sh" width="41" height="11" rx="2"/><text class="t" x="3" y="8">Slice</text><text class="a" x="3" y="19"><tspan class="k">starts</tspan> ⟨1⟩</text><text class="a" x="3" y="27.3"><tspan class="k">ends</tspan> ⟨1⟩</text><text class="a" x="3" y="35.6"><tspan class="k">axes</tspan> ⟨1⟩</text><text class="a" x="3" y="43.9"><tspan class="k">steps</tspan> ⟨1⟩</text></g>
<g id="sA2" transform="translate(139,2358)"><rect class="b" width="41" height="47.5" rx="2"/><rect class="sh" width="41" height="11" rx="2"/><text class="t" x="3" y="8">Slice</text><text class="a" x="3" y="19"><tspan class="k">starts</tspan> ⟨1⟩</text><text class="a" x="3" y="27.3"><tspan class="k">ends</tspan> ⟨1⟩</text><text class="a" x="3" y="35.6"><tspan class="k">axes</tspan> ⟨1⟩</text><text class="a" x="3" y="43.9"><tspan class="k">steps</tspan> ⟨1⟩</text></g>
<g id="sA3" transform="translate(191,2358)"><rect class="b" width="41" height="47.5" rx="2"/><rect class="sh" width="41" height="11" rx="2"/><text class="t" x="3" y="8">Slice</text><text class="a" x="3" y="19"><tspan class="k">starts</tspan> ⟨1⟩</text><text class="a" x="3" y="27.3"><tspan class="k">ends</tspan> ⟨1⟩</text><text class="a" x="3" y="35.6"><tspan class="k">axes</tspan> ⟨1⟩</text><text class="a" x="3" y="43.9"><tspan class="k">steps</tspan> ⟨1⟩</text></g>
<g id="sA4" transform="translate(244,2358)"><rect class="b" width="41" height="47.5" rx="2"/><rect class="sh" width="41" height="11" rx="2"/><text class="t" x="3" y="8">Slice</text><text class="a" x="3" y="19"><tspan class="k">starts</tspan> ⟨1⟩</text><text class="a" x="3" y="27.3"><tspan class="k">ends</tspan> ⟨1⟩</text><text class="a" x="3" y="35.6"><tspan class="k">axes</tspan> ⟨1⟩</text><text class="a" x="3" y="43.9"><tspan class="k">steps</tspan> ⟨1⟩</text></g>
<g id="sA5" transform="translate(296,2358)"><rect class="b" width="41" height="47.5" rx="2"/><rect class="sh" width="41" height="11" rx="2"/><text class="t" x="3" y="8">Slice</text><text class="a" x="3" y="19"><tspan class="k">starts</tspan> ⟨1⟩</text><text class="a" x="3" y="27.3"><tspan class="k">ends</tspan> ⟨1⟩</text><text class="a" x="3" y="35.6"><tspan class="k">axes</tspan> ⟨1⟩</text><text class="a" x="3" y="43.9"><tspan class="k">steps</tspan> ⟨1⟩</text></g>
<g id="sA6" transform="translate(348,2358)"><rect class="b" width="41" height="47.5" rx="2"/><rect class="sh" width="41" height="11" rx="2"/><text class="t" x="3" y="8">Slice</text><text class="a" x="3" y="19"><tspan class="k">starts</tspan> ⟨1⟩</text><text class="a" x="3" y="27.3"><tspan class="k">ends</tspan> ⟨1⟩</text><text class="a" x="3" y="35.6"><tspan class="k">axes</tspan> ⟨1⟩</text><text class="a" x="3" y="43.9"><tspan class="k">steps</tspan> ⟨1⟩</text></g>
<g id="sA7" transform="translate(504,2358)"><rect class="b" width="41" height="47.5" rx="2"/><rect class="sh" width="41" height="11" rx="2"/><text class="t" x="3" y="8">Slice</text><text class="a" x="3" y="19"><tspan class="k">starts</tspan> ⟨1⟩</text><text class="a" x="3" y="27.3"><tspan class="k">ends</tspan> ⟨1⟩</text><text class="a" x="3" y="35.6"><tspan class="k">axes</tspan> ⟨1⟩</text><text class="a" x="3" y="43.9"><tspan class="k">steps</tspan> ⟨1⟩</text></g>
<g id="sA8" transform="translate(555,2358)"><rect class="b" width="41" height="47.5" rx="2"/><rect class="sh" width="41" height="11" rx="2"/><text class="t" x="3" y="8">Slice</text><text class="a" x="3" y="19"><tspan class="k">starts</tspan> ⟨1⟩</text><text class="a" x="3" y="27.3"><tspan class="k">ends</tspan> ⟨1⟩</text><text class="a" x="3" y="35.6"><tspan class="k">axes</tspan> ⟨1⟩</text><text class="a" x="3" y="43.9"><tspan class="k">steps</tspan> ⟨1⟩</text></g>
<g id="sA9" transform="translate(607,2358)"><rect class="b" width="41" height="47.5" rx="2"/><rect class="sh" width="41" height="11" rx="2"/><text class="t" x="3" y="8">Slice</text><text class="a" x="3" y="19"><tspan class="k">starts</tspan> ⟨1⟩</text><text class="a" x="3" y="27.3"><tspan class="k">ends</tspan> ⟨1⟩</text><text class="a" x="3" y="35.6"><tspan class="k">axes</tspan> ⟨1⟩</text><text class="a" x="3" y="43.9"><tspan class="k">steps</tspan> ⟨1⟩</text></g>
<g id="sA10" transform="translate(669,2358)"><rect class="b" width="41" height="47.5" rx="2"/><rect class="sh" width="41" height="11" rx="2"/><text class="t" x="3" y="8">Slice</text><text class="a" x="3" y="19"><tspan class="k">starts</tspan> ⟨1⟩</text><text class="a" x="3" y="27.3"><tspan class="k">ends</tspan> ⟨1⟩</text><text class="a" x="3" y="35.6"><tspan class="k">axes</tspan> ⟨1⟩</text><text class="a" x="3" y="43.9"><tspan class="k">steps</tspan> ⟨1⟩</text></g>
<g id="sA11" transform="translate(720,2358)"><rect class="b" width="41" height="47.5" rx="2"/><rect class="sh" width="41" height="11" rx="2"/><text class="t" x="3" y="8">Slice</text><text class="a" x="3" y="19"><tspan class="k">starts</tspan> ⟨1⟩</text><text class="a" x="3" y="27.3"><tspan class="k">ends</tspan> ⟨1⟩</text><text class="a" x="3" y="35.6"><tspan class="k">axes</tspan> ⟨1⟩</text><text class="a" x="3" y="43.9"><tspan class="k">steps</tspan> ⟨1⟩</text></g>
<g id="sA12" transform="translate(772,2358)"><rect class="b" width="41" height="47.5" rx="2"/><rect class="sh" width="41" height="11" rx="2"/><text class="t" x="3" y="8">Slice</text><text class="a" x="3" y="19"><tspan class="k">starts</tspan> ⟨1⟩</text><text class="a" x="3" y="27.3"><tspan class="k">ends</tspan> ⟨1⟩</text><text class="a" x="3" y="35.6"><tspan class="k">axes</tspan> ⟨1⟩</text><text class="a" x="3" y="43.9"><tspan class="k">steps</tspan> ⟨1⟩</text></g>
<g id="sB1" transform="translate(929,2358)"><rect class="b" width="41" height="47.5" rx="2"/><rect class="sh" width="41" height="11" rx="2"/><text class="t" x="3" y="8">Slice</text><text class="a" x="3" y="19"><tspan class="k">starts</tspan> ⟨1⟩</text><text class="a" x="3" y="27.3"><tspan class="k">ends</tspan> ⟨1⟩</text><text class="a" x="3" y="35.6"><tspan class="k">axes</tspan> ⟨1⟩</text><text class="a" x="3" y="43.9"><tspan class="k">steps</tspan> ⟨1⟩</text></g>
<g id="sB2" transform="translate(981,2358)"><rect class="b" width="41" height="47.5" rx="2"/><rect class="sh" width="41" height="11" rx="2"/><text class="t" x="3" y="8">Slice</text><text class="a" x="3" y="19"><tspan class="k">starts</tspan> ⟨1⟩</text><text class="a" x="3" y="27.3"><tspan class="k">ends</tspan> ⟨1⟩</text><text class="a" x="3" y="35.6"><tspan class="k">axes</tspan> ⟨1⟩</text><text class="a" x="3" y="43.9"><tspan class="k">steps</tspan> ⟨1⟩</text></g>
<g id="sB3" transform="translate(1033,2358)"><rect class="b" width="41" height="47.5" rx="2"/><rect class="sh" width="41" height="11" rx="2"/><text class="t" x="3" y="8">Slice</text><text class="a" x="3" y="19"><tspan class="k">starts</tspan> ⟨1⟩</text><text class="a" x="3" y="27.3"><tspan class="k">ends</tspan> ⟨1⟩</text><text class="a" x="3" y="35.6"><tspan class="k">axes</tspan> ⟨1⟩</text><text class="a" x="3" y="43.9"><tspan class="k">steps</tspan> ⟨1⟩</text></g>
<g id="sB4" transform="translate(1088,2358)"><rect class="b" width="41" height="47.5" rx="2"/><rect class="sh" width="41" height="11" rx="2"/><text class="t" x="3" y="8">Slice</text><text class="a" x="3" y="19"><tspan class="k">starts</tspan> ⟨1⟩</text><text class="a" x="3" y="27.3"><tspan class="k">ends</tspan> ⟨1⟩</text><text class="a" x="3" y="35.6"><tspan class="k">axes</tspan> ⟨1⟩</text><text class="a" x="3" y="43.9"><tspan class="k">steps</tspan> ⟨1⟩</text></g>
<g id="sB5" transform="translate(1140,2358)"><rect class="b" width="41" height="47.5" rx="2"/><rect class="sh" width="41" height="11" rx="2"/><text class="t" x="3" y="8">Slice</text><text class="a" x="3" y="19"><tspan class="k">starts</tspan> ⟨1⟩</text><text class="a" x="3" y="27.3"><tspan class="k">ends</tspan> ⟨1⟩</text><text class="a" x="3" y="35.6"><tspan class="k">axes</tspan> ⟨1⟩</text><text class="a" x="3" y="43.9"><tspan class="k">steps</tspan> ⟨1⟩</text></g>
<g id="sB6" transform="translate(1192,2358)"><rect class="b" width="41" height="47.5" rx="2"/><rect class="sh" width="41" height="11" rx="2"/><text class="t" x="3" y="8">Slice</text><text class="a" x="3" y="19"><tspan class="k">starts</tspan> ⟨1⟩</text><text class="a" x="3" y="27.3"><tspan class="k">ends</tspan> ⟨1⟩</text><text class="a" x="3" y="35.6"><tspan class="k">axes</tspan> ⟨1⟩</text><text class="a" x="3" y="43.9"><tspan class="k">steps</tspan> ⟨1⟩</text></g>
<g id="sB7" transform="translate(1401,2358)"><rect class="b" width="41" height="47.5" rx="2"/><rect class="sh" width="41" height="11" rx="2"/><text class="t" x="3" y="8">Slice</text><text class="a" x="3" y="19"><tspan class="k">starts</tspan> ⟨1⟩</text><text class="a" x="3" y="27.3"><tspan class="k">ends</tspan> ⟨1⟩</text><text class="a" x="3" y="35.6"><tspan class="k">axes</tspan> ⟨1⟩</text><text class="a" x="3" y="43.9"><tspan class="k">steps</tspan> ⟨1⟩</text></g>
<g id="sB8" transform="translate(1453,2358)"><rect class="b" width="41" height="47.5" rx="2"/><rect class="sh" width="41" height="11" rx="2"/><text class="t" x="3" y="8">Slice</text><text class="a" x="3" y="19"><tspan class="k">starts</tspan> ⟨1⟩</text><text class="a" x="3" y="27.3"><tspan class="k">ends</tspan> ⟨1⟩</text><text class="a" x="3" y="35.6"><tspan class="k">axes</tspan> ⟨1⟩</text><text class="a" x="3" y="43.9"><tspan class="k">steps</tspan> ⟨1⟩</text></g>
<g id="sB9" transform="translate(1505,2358)"><rect class="b" width="41" height="47.5" rx="2"/><rect class="sh" width="41" height="11" rx="2"/><text class="t" x="3" y="8">Slice</text><text class="a" x="3" y="19"><tspan class="k">starts</tspan> ⟨1⟩</text><text class="a" x="3" y="27.3"><tspan class="k">ends</tspan> ⟨1⟩</text><text class="a" x="3" y="35.6"><tspan class="k">axes</tspan> ⟨1⟩</text><text class="a" x="3" y="43.9"><tspan class="k">steps</tspan> ⟨1⟩</text></g>
<g id="sB10" transform="translate(1560,2358)"><rect class="b" width="41" height="47.5" rx="2"/><rect class="sh" width="41" height="11" rx="2"/><text class="t" x="3" y="8">Slice</text><text class="a" x="3" y="19"><tspan class="k">starts</tspan> ⟨1⟩</text><text class="a" x="3" y="27.3"><tspan class="k">ends</tspan> ⟨1⟩</text><text class="a" x="3" y="35.6"><tspan class="k">axes</tspan> ⟨1⟩</text><text class="a" x="3" y="43.9"><tspan class="k">steps</tspan> ⟨1⟩</text></g>
<g id="sB11" transform="translate(1612,2358)"><rect class="b" width="41" height="47.5" rx="2"/><rect class="sh" width="41" height="11" rx="2"/><text class="t" x="3" y="8">Slice</text><text class="a" x="3" y="19"><tspan class="k">starts</tspan> ⟨1⟩</text><text class="a" x="3" y="27.3"><tspan class="k">ends</tspan> ⟨1⟩</text><text class="a" x="3" y="35.6"><tspan class="k">axes</tspan> ⟨1⟩</text><text class="a" x="3" y="43.9"><tspan class="k">steps</tspan> ⟨1⟩</text></g>
<g id="sB12" transform="translate(1664,2358)"><rect class="b" width="41" height="47.5" rx="2"/><rect class="sh" width="41" height="11" rx="2"/><text class="t" x="3" y="8">Slice</text><text class="a" x="3" y="19"><tspan class="k">starts</tspan> ⟨1⟩</text><text class="a" x="3" y="27.3"><tspan class="k">ends</tspan> ⟨1⟩</text><text class="a" x="3" y="35.6"><tspan class="k">axes</tspan> ⟨1⟩</text><text class="a" x="3" y="43.9"><tspan class="k">steps</tspan> ⟨1⟩</text></g>
<g id="sC1" transform="translate(342,2597)"><rect class="b" width="41" height="47.5" rx="2"/><rect class="sh" width="41" height="11" rx="2"/><text class="t" x="3" y="8">Slice</text><text class="a" x="3" y="19"><tspan class="k">starts</tspan> ⟨1⟩</text><text class="a" x="3" y="27.3"><tspan class="k">ends</tspan> ⟨1⟩</text><text class="a" x="3" y="35.6"><tspan class="k">axes</tspan> ⟨1⟩</text><text class="a" x="3" y="43.9"><tspan class="k">steps</tspan> ⟨1⟩</text></g>
<g id="sC2" transform="translate(394,2597)"><rect class="b" width="41" height="47.5" rx="2"/><rect class="sh" width="41" height="11" rx="2"/><text class="t" x="3" y="8">Slice</text><text class="a" x="3" y="19"><tspan class="k">starts</tspan> ⟨1⟩</text><text class="a" x="3" y="27.3"><tspan class="k">ends</tspan> ⟨1⟩</text><text class="a" x="3" y="35.6"><tspan class="k">axes</tspan> ⟨1⟩</text><text class="a" x="3" y="43.9"><tspan class="k">steps</tspan> ⟨1⟩</text></g>
<g id="sC3" transform="translate(449,2597)"><rect class="b" width="41" height="47.5" rx="2"/><rect class="sh" width="41" height="11" rx="2"/><text class="t" x="3" y="8">Slice</text><text class="a" x="3" y="19"><tspan class="k">starts</tspan> ⟨1⟩</text><text class="a" x="3" y="27.3"><tspan class="k">ends</tspan> ⟨1⟩</text><text class="a" x="3" y="35.6"><tspan class="k">axes</tspan> ⟨1⟩</text><text class="a" x="3" y="43.9"><tspan class="k">steps</tspan> ⟨1⟩</text></g>
<g id="sC4" transform="translate(503,2597)"><rect class="b" width="41" height="47.5" rx="2"/><rect class="sh" width="41" height="11" rx="2"/><text class="t" x="3" y="8">Slice</text><text class="a" x="3" y="19"><tspan class="k">starts</tspan> ⟨1⟩</text><text class="a" x="3" y="27.3"><tspan class="k">ends</tspan> ⟨1⟩</text><text class="a" x="3" y="35.6"><tspan class="k">axes</tspan> ⟨1⟩</text><text class="a" x="3" y="43.9"><tspan class="k">steps</tspan> ⟨1⟩</text></g>
<g id="sC5" transform="translate(559,2597)"><rect class="b" width="41" height="47.5" rx="2"/><rect class="sh" width="41" height="11" rx="2"/><text class="t" x="3" y="8">Slice</text><text class="a" x="3" y="19"><tspan class="k">starts</tspan> ⟨1⟩</text><text class="a" x="3" y="27.3"><tspan class="k">ends</tspan> ⟨1⟩</text><text class="a" x="3" y="35.6"><tspan class="k">axes</tspan> ⟨1⟩</text><text class="a" x="3" y="43.9"><tspan class="k">steps</tspan> ⟨1⟩</text></g>
<g id="sC6" transform="translate(615,2597)"><rect class="b" width="41" height="47.5" rx="2"/><rect class="sh" width="41" height="11" rx="2"/><text class="t" x="3" y="8">Slice</text><text class="a" x="3" y="19"><tspan class="k">starts</tspan> ⟨1⟩</text><text class="a" x="3" y="27.3"><tspan class="k">ends</tspan> ⟨1⟩</text><text class="a" x="3" y="35.6"><tspan class="k">axes</tspan> ⟨1⟩</text><text class="a" x="3" y="43.9"><tspan class="k">steps</tspan> ⟨1⟩</text></g>
<g id="sC7" transform="translate(668,2597)"><rect class="b" width="41" height="47.5" rx="2"/><rect class="sh" width="41" height="11" rx="2"/><text class="t" x="3" y="8">Slice</text><text class="a" x="3" y="19"><tspan class="k">starts</tspan> ⟨1⟩</text><text class="a" x="3" y="27.3"><tspan class="k">ends</tspan> ⟨1⟩</text><text class="a" x="3" y="35.6"><tspan class="k">axes</tspan> ⟨1⟩</text><text class="a" x="3" y="43.9"><tspan class="k">steps</tspan> ⟨1⟩</text></g>
<g id="sC8" transform="translate(720,2597)"><rect class="b" width="41" height="47.5" rx="2"/><rect class="sh" width="41" height="11" rx="2"/><text class="t" x="3" y="8">Slice</text><text class="a" x="3" y="19"><tspan class="k">starts</tspan> ⟨1⟩</text><text class="a" x="3" y="27.3"><tspan class="k">ends</tspan> ⟨1⟩</text><text class="a" x="3" y="35.6"><tspan class="k">axes</tspan> ⟨1⟩</text><text class="a" x="3" y="43.9"><tspan class="k">steps</tspan> ⟨1⟩</text></g>
<g id="sC9" transform="translate(772,2597)"><rect class="b" width="41" height="47.5" rx="2"/><rect class="sh" width="41" height="11" rx="2"/><text class="t" x="3" y="8">Slice</text><text class="a" x="3" y="19"><tspan class="k">starts</tspan> ⟨1⟩</text><text class="a" x="3" y="27.3"><tspan class="k">ends</tspan> ⟨1⟩</text><text class="a" x="3" y="35.6"><tspan class="k">axes</tspan> ⟨1⟩</text><text class="a" x="3" y="43.9"><tspan class="k">steps</tspan> ⟨1⟩</text></g>
<g id="sC10" transform="translate(827,2597)"><rect class="b" width="41" height="47.5" rx="2"/><rect class="sh" width="41" height="11" rx="2"/><text class="t" x="3" y="8">Slice</text><text class="a" x="3" y="19"><tspan class="k">starts</tspan> ⟨1⟩</text><text class="a" x="3" y="27.3"><tspan class="k">ends</tspan> ⟨1⟩</text><text class="a" x="3" y="35.6"><tspan class="k">axes</tspan> ⟨1⟩</text><text class="a" x="3" y="43.9"><tspan class="k">steps</tspan> ⟨1⟩</text></g>
<g id="sC11" transform="translate(885,2597)"><rect class="b" width="41" height="47.5" rx="2"/><rect class="sh" width="41" height="11" rx="2"/><text class="t" x="3" y="8">Slice</text><text class="a" x="3" y="19"><tspan class="k">starts</tspan> ⟨1⟩</text><text class="a" x="3" y="27.3"><tspan class="k">ends</tspan> ⟨1⟩</text><text class="a" x="3" y="35.6"><tspan class="k">axes</tspan> ⟨1⟩</text><text class="a" x="3" y="43.9"><tspan class="k">steps</tspan> ⟨1⟩</text></g>
<g id="sC12" transform="translate(941,2597)"><rect class="b" width="41" height="47.5" rx="2"/><rect class="sh" width="41" height="11" rx="2"/><text class="t" x="3" y="8">Slice</text><text class="a" x="3" y="19"><tspan class="k">starts</tspan> ⟨1⟩</text><text class="a" x="3" y="27.3"><tspan class="k">ends</tspan> ⟨1⟩</text><text class="a" x="3" y="35.6"><tspan class="k">axes</tspan> ⟨1⟩</text><text class="a" x="3" y="43.9"><tspan class="k">steps</tspan> ⟨1⟩</text></g>
<g id="sD1" transform="translate(1187,2597)"><rect class="b" width="41" height="47.5" rx="2"/><rect class="sh" width="41" height="11" rx="2"/><text class="t" x="3" y="8">Slice</text><text class="a" x="3" y="19"><tspan class="k">starts</tspan> ⟨1⟩</text><text class="a" x="3" y="27.3"><tspan class="k">ends</tspan> ⟨1⟩</text><text class="a" x="3" y="35.6"><tspan class="k">axes</tspan> ⟨1⟩</text><text class="a" x="3" y="43.9"><tspan class="k">steps</tspan> ⟨1⟩</text></g>
<g id="sD2" transform="translate(1239,2597)"><rect class="b" width="41" height="47.5" rx="2"/><rect class="sh" width="41" height="11" rx="2"/><text class="t" x="3" y="8">Slice</text><text class="a" x="3" y="19"><tspan class="k">starts</tspan> ⟨1⟩</text><text class="a" x="3" y="27.3"><tspan class="k">ends</tspan> ⟨1⟩</text><text class="a" x="3" y="35.6"><tspan class="k">axes</tspan> ⟨1⟩</text><text class="a" x="3" y="43.9"><tspan class="k">steps</tspan> ⟨1⟩</text></g>
<g id="sD3" transform="translate(1291,2597)"><rect class="b" width="41" height="47.5" rx="2"/><rect class="sh" width="41" height="11" rx="2"/><text class="t" x="3" y="8">Slice</text><text class="a" x="3" y="19"><tspan class="k">starts</tspan> ⟨1⟩</text><text class="a" x="3" y="27.3"><tspan class="k">ends</tspan> ⟨1⟩</text><text class="a" x="3" y="35.6"><tspan class="k">axes</tspan> ⟨1⟩</text><text class="a" x="3" y="43.9"><tspan class="k">steps</tspan> ⟨1⟩</text></g>
<g id="sD4" transform="translate(1346,2597)"><rect class="b" width="41" height="47.5" rx="2"/><rect class="sh" width="41" height="11" rx="2"/><text class="t" x="3" y="8">Slice</text><text class="a" x="3" y="19"><tspan class="k">starts</tspan> ⟨1⟩</text><text class="a" x="3" y="27.3"><tspan class="k">ends</tspan> ⟨1⟩</text><text class="a" x="3" y="35.6"><tspan class="k">axes</tspan> ⟨1⟩</text><text class="a" x="3" y="43.9"><tspan class="k">steps</tspan> ⟨1⟩</text></g>
<g id="sD5" transform="translate(1401,2597)"><rect class="b" width="41" height="47.5" rx="2"/><rect class="sh" width="41" height="11" rx="2"/><text class="t" x="3" y="8">Slice</text><text class="a" x="3" y="19"><tspan class="k">starts</tspan> ⟨1⟩</text><text class="a" x="3" y="27.3"><tspan class="k">ends</tspan> ⟨1⟩</text><text class="a" x="3" y="35.6"><tspan class="k">axes</tspan> ⟨1⟩</text><text class="a" x="3" y="43.9"><tspan class="k">steps</tspan> ⟨1⟩</text></g>
<g id="sD6" transform="translate(1457,2597)"><rect class="b" width="41" height="47.5" rx="2"/><rect class="sh" width="41" height="11" rx="2"/><text class="t" x="3" y="8">Slice</text><text class="a" x="3" y="19"><tspan class="k">starts</tspan> ⟨1⟩</text><text class="a" x="3" y="27.3"><tspan class="k">ends</tspan> ⟨1⟩</text><text class="a" x="3" y="35.6"><tspan class="k">axes</tspan> ⟨1⟩</text><text class="a" x="3" y="43.9"><tspan class="k">steps</tspan> ⟨1⟩</text></g>
<g id="sD7" transform="translate(1511,2597)"><rect class="b" width="41" height="47.5" rx="2"/><rect class="sh" width="41" height="11" rx="2"/><text class="t" x="3" y="8">Slice</text><text class="a" x="3" y="19"><tspan class="k">starts</tspan> ⟨1⟩</text><text class="a" x="3" y="27.3"><tspan class="k">ends</tspan> ⟨1⟩</text><text class="a" x="3" y="35.6"><tspan class="k">axes</tspan> ⟨1⟩</text><text class="a" x="3" y="43.9"><tspan class="k">steps</tspan> ⟨1⟩</text></g>
<g id="sD8" transform="translate(1563,2597)"><rect class="b" width="41" height="47.5" rx="2"/><rect class="sh" width="41" height="11" rx="2"/><text class="t" x="3" y="8">Slice</text><text class="a" x="3" y="19"><tspan class="k">starts</tspan> ⟨1⟩</text><text class="a" x="3" y="27.3"><tspan class="k">ends</tspan> ⟨1⟩</text><text class="a" x="3" y="35.6"><tspan class="k">axes</tspan> ⟨1⟩</text><text class="a" x="3" y="43.9"><tspan class="k">steps</tspan> ⟨1⟩</text></g>
<g id="sD9" transform="translate(1615,2597)"><rect class="b" width="41" height="47.5" rx="2"/><rect class="sh" width="41" height="11" rx="2"/><text class="t" x="3" y="8">Slice</text><text class="a" x="3" y="19"><tspan class="k">starts</tspan> ⟨1⟩</text><text class="a" x="3" y="27.3"><tspan class="k">ends</tspan> ⟨1⟩</text><text class="a" x="3" y="35.6"><tspan class="k">axes</tspan> ⟨1⟩</text><text class="a" x="3" y="43.9"><tspan class="k">steps</tspan> ⟨1⟩</text></g>
<g id="sD10" transform="translate(1668,2597)"><rect class="b" width="41" height="47.5" rx="2"/><rect class="sh" width="41" height="11" rx="2"/><text class="t" x="3" y="8">Slice</text><text class="a" x="3" y="19"><tspan class="k">starts</tspan> ⟨1⟩</text><text class="a" x="3" y="27.3"><tspan class="k">ends</tspan> ⟨1⟩</text><text class="a" x="3" y="35.6"><tspan class="k">axes</tspan> ⟨1⟩</text><text class="a" x="3" y="43.9"><tspan class="k">steps</tspan> ⟨1⟩</text></g>
<g id="sD11" transform="translate(1723,2597)"><rect class="b" width="41" height="47.5" rx="2"/><rect class="sh" width="41" height="11" rx="2"/><text class="t" x="3" y="8">Slice</text><text class="a" x="3" y="19"><tspan class="k">starts</tspan> ⟨1⟩</text><text class="a" x="3" y="27.3"><tspan class="k">ends</tspan> ⟨1⟩</text><text class="a" x="3" y="35.6"><tspan class="k">axes</tspan> ⟨1⟩</text><text class="a" x="3" y="43.9"><tspan class="k">steps</tspan> ⟨1⟩</text></g>
<g id="sD12" transform="translate(1780,2597)"><rect class="b" width="41" height="47.5" rx="2"/><rect class="sh" width="41" height="11" rx="2"/><text class="t" x="3" y="8">Slice</text><text class="a" x="3" y="19"><tspan class="k">starts</tspan> ⟨1⟩</text><text class="a" x="3" y="27.3"><tspan class="k">ends</tspan> ⟨1⟩</text><text class="a" x="3" y="35.6"><tspan class="k">axes</tspan> ⟨1⟩</text><text class="a" x="3" y="43.9"><tspan class="k">steps</tspan> ⟨1⟩</text></g>
<g id="sE1" transform="translate(504,2789)"><rect class="b" width="41" height="47.5" rx="2"/><rect class="sh" width="41" height="11" rx="2"/><text class="t" x="3" y="8">Slice</text><text class="a" x="3" y="19"><tspan class="k">starts</tspan> ⟨1⟩</text><text class="a" x="3" y="27.3"><tspan class="k">ends</tspan> ⟨1⟩</text><text class="a" x="3" y="35.6"><tspan class="k">axes</tspan> ⟨1⟩</text><text class="a" x="3" y="43.9"><tspan class="k">steps</tspan> ⟨1⟩</text></g>
<g id="sE2" transform="translate(435,2859)"><rect class="b" width="41" height="47.5" rx="2"/><rect class="sh" width="41" height="11" rx="2"/><text class="t" x="3" y="8">Slice</text><text class="a" x="3" y="19"><tspan class="k">starts</tspan> ⟨1⟩</text><text class="a" x="3" y="27.3"><tspan class="k">ends</tspan> ⟨1⟩</text><text class="a" x="3" y="35.6"><tspan class="k">axes</tspan> ⟨1⟩</text><text class="a" x="3" y="43.9"><tspan class="k">steps</tspan> ⟨1⟩</text></g>
<g id="sE3" transform="translate(831,2789)"><rect class="b" width="41" height="47.5" rx="2"/><rect class="sh" width="41" height="11" rx="2"/><text class="t" x="3" y="8">Slice</text><text class="a" x="3" y="19"><tspan class="k">starts</tspan> ⟨1⟩</text><text class="a" x="3" y="27.3"><tspan class="k">ends</tspan> ⟨1⟩</text><text class="a" x="3" y="35.6"><tspan class="k">axes</tspan> ⟨1⟩</text><text class="a" x="3" y="43.9"><tspan class="k">steps</tspan> ⟨1⟩</text></g>
<g id="sE4" transform="translate(764,2859)"><rect class="b" width="41" height="47.5" rx="2"/><rect class="sh" width="41" height="11" rx="2"/><text class="t" x="3" y="8">Slice</text><text class="a" x="3" y="19"><tspan class="k">starts</tspan> ⟨1⟩</text><text class="a" x="3" y="27.3"><tspan class="k">ends</tspan> ⟨1⟩</text><text class="a" x="3" y="35.6"><tspan class="k">axes</tspan> ⟨1⟩</text><text class="a" x="3" y="43.9"><tspan class="k">steps</tspan> ⟨1⟩</text></g>
<g id="sF1" transform="translate(1401,2789)"><rect class="b" width="41" height="47.5" rx="2"/><rect class="sh" width="41" height="11" rx="2"/><text class="t" x="3" y="8">Slice</text><text class="a" x="3" y="19"><tspan class="k">starts</tspan> ⟨1⟩</text><text class="a" x="3" y="27.3"><tspan class="k">ends</tspan> ⟨1⟩</text><text class="a" x="3" y="35.6"><tspan class="k">axes</tspan> ⟨1⟩</text><text class="a" x="3" y="43.9"><tspan class="k">steps</tspan> ⟨1⟩</text></g>
<g id="sF2" transform="translate(1317.5,2859)"><rect class="b" width="41" height="47.5" rx="2"/><rect class="sh" width="41" height="11" rx="2"/><text class="t" x="3" y="8">Slice</text><text class="a" x="3" y="19"><tspan class="k">starts</tspan> ⟨1⟩</text><text class="a" x="3" y="27.3"><tspan class="k">ends</tspan> ⟨1⟩</text><text class="a" x="3" y="35.6"><tspan class="k">axes</tspan> ⟨1⟩</text><text class="a" x="3" y="43.9"><tspan class="k">steps</tspan> ⟨1⟩</text></g>
<g id="sF3" transform="translate(1725,2789)"><rect class="b" width="41" height="47.5" rx="2"/><rect class="sh" width="41" height="11" rx="2"/><text class="t" x="3" y="8">Slice</text><text class="a" x="3" y="19"><tspan class="k">starts</tspan> ⟨1⟩</text><text class="a" x="3" y="27.3"><tspan class="k">ends</tspan> ⟨1⟩</text><text class="a" x="3" y="35.6"><tspan class="k">axes</tspan> ⟨1⟩</text><text class="a" x="3" y="43.9"><tspan class="k">steps</tspan> ⟨1⟩</text></g>
<g id="sF4" transform="translate(1642,2859)"><rect class="b" width="41" height="47.5" rx="2"/><rect class="sh" width="41" height="11" rx="2"/><text class="t" x="3" y="8">Slice</text><text class="a" x="3" y="19"><tspan class="k">starts</tspan> ⟨1⟩</text><text class="a" x="3" y="27.3"><tspan class="k">ends</tspan> ⟨1⟩</text><text class="a" x="3" y="35.6"><tspan class="k">axes</tspan> ⟨1⟩</text><text class="a" x="3" y="43.9"><tspan class="k">steps</tspan> ⟨1⟩</text></g>
</g>
<g id="head-nodes">
<g id="cA1" transform="translate(142,2428)"><rect class="sh" width="26" height="11" rx="2"/><text class="t c" x="13" y="8">Concat</text></g>
<g id="cA2" transform="translate(298,2428)"><rect class="sh" width="26" height="11" rx="2"/><text class="t c" x="13" y="8">Concat</text></g>
<g id="cA3" transform="translate(562.5,2428)"><rect class="sh" width="26" height="11" rx="2"/><text class="t c" x="13" y="8">Concat</text></g>
<g id="cA4" transform="translate(727,2428)"><rect class="sh" width="26" height="11" rx="2"/><text class="t c" x="13" y="8">Concat</text></g>
<g id="rA1" transform="translate(134.5,2462)"><rect class="b" width="41" height="22" rx="2"/><rect class="sh" width="41" height="11" rx="2"/><text class="t" x="3" y="8">Reshape</text><text class="a" x="3" y="19"><tspan class="k">shape</tspan> ⟨2⟩</text></g>
<g id="gA1" transform="translate(140,2512)"><rect class="ac" width="30" height="11" rx="2"/><text class="t c" x="15" y="8">Sigmoid</text></g>
<g id="rA2" transform="translate(134.5,2551)"><rect class="b" width="41" height="22" rx="2"/><rect class="sh" width="41" height="11" rx="2"/><text class="t" x="3" y="8">Reshape</text><text class="a" x="3" y="19"><tspan class="k">shape</tspan> ⟨3⟩</text></g>
<g id="rA3" transform="translate(290.5,2462)"><rect class="b" width="41" height="22" rx="2"/><rect class="sh" width="41" height="11" rx="2"/><text class="t" x="3" y="8">Reshape</text><text class="a" x="3" y="19"><tspan class="k">shape</tspan> ⟨4⟩</text></g>
<g id="tA" transform="translate(292.5,2512)"><rect class="tf" width="37" height="11" rx="2"/><text class="t c" x="18.5" y="8">Transpose</text></g>
<g id="rA4" transform="translate(290.5,2551)"><rect class="b" width="41" height="22" rx="2"/><rect class="sh" width="41" height="11" rx="2"/><text class="t" x="3" y="8">Reshape</text><text class="a" x="3" y="19"><tspan class="k">shape</tspan> ⟨3⟩</text></g>
<g id="gA2" transform="translate(296,2614)"><rect class="ac" width="30" height="11" rx="2"/><text class="t c" x="15" y="8">Sigmoid</text></g>
<g id="mA" transform="translate(174,2672)"><rect class="bk" width="17" height="11" rx="2"/><text class="t c" x="8.5" y="8">Mul</text></g>
<g id="eA" transform="translate(567,2557)"><rect class="bk" width="17" height="11" rx="2"/><text class="t c" x="8.5" y="8">Exp</text></g>
<g id="gA3" transform="translate(725,2468)"><rect class="ac" width="30" height="11" rx="2"/><text class="t c" x="15" y="8">Sigmoid</text></g>
<g id="mA2" transform="translate(717,2507)"><rect class="b" width="46" height="21.5" rx="2"/><rect class="bk" width="46" height="11" rx="2"/><text class="t" x="3" y="8">Mul</text><text class="a" x="3" y="19"><tspan class="k">B</tspan> = 1.0499999...</text></g>
<g id="uA2" transform="translate(717,2552)"><rect class="b" width="46" height="21.5" rx="2"/><rect class="bk" width="46" height="11" rx="2"/><text class="t" x="3" y="8">Sub</text><text class="a" x="3" y="19"><tspan class="k">B</tspan> = 0.02500000...</text></g>
<g id="cB1" transform="translate(988.5,2428)"><rect class="sh" width="26" height="11" rx="2"/><text class="t c" x="13" y="8">Concat</text></g>
<g id="cB2" transform="translate(1147.5,2428)"><rect class="sh" width="26" height="11" rx="2"/><text class="t c" x="13" y="8">Concat</text></g>
<g id="cB3" transform="translate(1461,2428)"><rect class="sh" width="26" height="11" rx="2"/><text class="t c" x="13" y="8">Concat</text></g>
<g id="cB4" transform="translate(1619.5,2428)"><rect class="sh" width="26" height="11" rx="2"/><text class="t c" x="13" y="8">Concat</text></g>
<g id="rB1" transform="translate(985,2462)"><rect class="b" width="41" height="22" rx="2"/><rect class="sh" width="41" height="11" rx="2"/><text class="t" x="3" y="8">Reshape</text><text class="a" x="3" y="19"><tspan class="k">shape</tspan> ⟨2⟩</text></g>
<g id="gB1" transform="translate(990.5,2512)"><rect class="ac" width="30" height="11" rx="2"/><text class="t c" x="15" y="8">Sigmoid</text></g>
<g id="rB2" transform="translate(985,2551)"><rect class="b" width="41" height="22" rx="2"/><rect class="sh" width="41" height="11" rx="2"/><text class="t" x="3" y="8">Reshape</text><text class="a" x="3" y="19"><tspan class="k">shape</tspan> ⟨3⟩</text></g>
<g id="rB3" transform="translate(1141.5,2462)"><rect class="b" width="41" height="22" rx="2"/><rect class="sh" width="41" height="11" rx="2"/><text class="t" x="3" y="8">Reshape</text><text class="a" x="3" y="19"><tspan class="k">shape</tspan> ⟨4⟩</text></g>
<g id="tB" transform="translate(1143.5,2512)"><rect class="tf" width="37" height="11" rx="2"/><text class="t c" x="18.5" y="8">Transpose</text></g>
<g id="rB4" transform="translate(1141.5,2551)"><rect class="b" width="41" height="22" rx="2"/><rect class="sh" width="41" height="11" rx="2"/><text class="t" x="3" y="8">Reshape</text><text class="a" x="3" y="19"><tspan class="k">shape</tspan> ⟨3⟩</text></g>
<g id="gB2" transform="translate(1147,2614)"><rect class="ac" width="30" height="11" rx="2"/><text class="t c" x="15" y="8">Sigmoid</text></g>
<g id="mB" transform="translate(1124,2672)"><rect class="bk" width="17" height="11" rx="2"/><text class="t c" x="8.5" y="8">Mul</text></g>
<g id="eB" transform="translate(1465.5,2557)"><rect class="bk" width="17" height="11" rx="2"/><text class="t c" x="8.5" y="8">Exp</text></g>
<g id="gB3" transform="translate(1617.5,2468)"><rect class="ac" width="30" height="11" rx="2"/><text class="t c" x="15" y="8">Sigmoid</text></g>
<g id="mB2" transform="translate(1609.5,2507)"><rect class="b" width="46" height="21.5" rx="2"/><rect class="bk" width="46" height="11" rx="2"/><text class="t" x="3" y="8">Mul</text><text class="a" x="3" y="19"><tspan class="k">B</tspan> = 1.0499999...</text></g>
<g id="uB2" transform="translate(1609.5,2552)"><rect class="b" width="46" height="21.5" rx="2"/><rect class="bk" width="46" height="11" rx="2"/><text class="t" x="3" y="8">Sub</text><text class="a" x="3" y="19"><tspan class="k">B</tspan> = 0.02500000...</text></g>
<g id="oC1" transform="translate(342,2667)"><rect class="b" width="41" height="21.5" rx="2"/><rect class="bk" width="41" height="11" rx="2"/><text class="t" x="3" y="8">Mul</text><text class="a" x="3" y="19"><tspan class="k">B</tspan> = 3.21875</text></g>
<g id="oC2" transform="translate(394,2667)"><rect class="b" width="41" height="21.5" rx="2"/><rect class="bk" width="41" height="11" rx="2"/><text class="t" x="3" y="8">Mul</text><text class="a" x="3" y="19"><tspan class="k">B</tspan> = 9.71875</text></g>
<g id="oC3" transform="translate(449,2667)"><rect class="b" width="41" height="21.5" rx="2"/><rect class="bk" width="41" height="11" rx="2"/><text class="t" x="3" y="8">Mul</text><text class="a" x="3" y="19"><tspan class="k">B</tspan> = 12.03125</text></g>
<g id="oC4" transform="translate(501.5,2667)"><rect class="b" width="44" height="21.5" rx="2"/><rect class="bk" width="44" height="11" rx="2"/><text class="t" x="3" y="8">Add</text><text class="a" x="3" y="19"><tspan class="k">B</tspan> ⟨1×1×12×13⟩</text></g>
<g id="oC5" transform="translate(557.5,2667)"><rect class="b" width="44" height="21.5" rx="2"/><rect class="bk" width="44" height="11" rx="2"/><text class="t" x="3" y="8">Add</text><text class="a" x="3" y="19"><tspan class="k">B</tspan> ⟨1×1×12×13⟩</text></g>
<g id="oC6" transform="translate(613.5,2667)"><rect class="b" width="44" height="21.5" rx="2"/><rect class="bk" width="44" height="11" rx="2"/><text class="t" x="3" y="8">Add</text><text class="a" x="3" y="19"><tspan class="k">B</tspan> ⟨1×1×12×13⟩</text></g>
<g id="oC7" transform="translate(668,2667)"><rect class="b" width="41" height="21.5" rx="2"/><rect class="bk" width="41" height="11" rx="2"/><text class="t" x="3" y="8">Mul</text><text class="a" x="3" y="19"><tspan class="k">B</tspan> = 10.59375</text></g>
<g id="oC8" transform="translate(720,2667)"><rect class="b" width="41" height="21.5" rx="2"/><rect class="bk" width="41" height="11" rx="2"/><text class="t" x="3" y="8">Mul</text><text class="a" x="3" y="19"><tspan class="k">B</tspan> = 3.5</text></g>
<g id="oC9" transform="translate(772,2667)"><rect class="b" width="41" height="21.5" rx="2"/><rect class="bk" width="41" height="11" rx="2"/><text class="t" x="3" y="8">Mul</text><text class="a" x="3" y="19"><tspan class="k">B</tspan> = 11.40625</text></g>
<g id="oC10" transform="translate(825.5,2667)"><rect class="b" width="44" height="21.5" rx="2"/><rect class="bk" width="44" height="11" rx="2"/><text class="t" x="3" y="8">Add</text><text class="a" x="3" y="19"><tspan class="k">B</tspan> ⟨1×1×12×13⟩</text></g>
<g id="oC11" transform="translate(883.5,2667)"><rect class="b" width="44" height="21.5" rx="2"/><rect class="bk" width="44" height="11" rx="2"/><text class="t" x="3" y="8">Add</text><text class="a" x="3" y="19"><tspan class="k">B</tspan> ⟨1×1×12×13⟩</text></g>
<g id="oC12" transform="translate(939.5,2667)"><rect class="b" width="44" height="21.5" rx="2"/><rect class="bk" width="44" height="11" rx="2"/><text class="t" x="3" y="8">Add</text><text class="a" x="3" y="19"><tspan class="k">B</tspan> ⟨1×1×12×13⟩</text></g>
<g id="oD1" transform="translate(1187,2667)"><rect class="b" width="41" height="21.5" rx="2"/><rect class="bk" width="41" height="11" rx="2"/><text class="t" x="3" y="8">Mul</text><text class="a" x="3" y="19"><tspan class="k">B</tspan> = 2.3125</text></g>
<g id="oD2" transform="translate(1239,2667)"><rect class="b" width="41" height="21.5" rx="2"/><rect class="bk" width="41" height="11" rx="2"/><text class="t" x="3" y="8">Mul</text><text class="a" x="3" y="19"><tspan class="k">B</tspan> = 4</text></g>
<g id="oD3" transform="translate(1291,2667)"><rect class="b" width="41" height="21.5" rx="2"/><rect class="bk" width="41" height="11" rx="2"/><text class="t" x="3" y="8">Mul</text><text class="a" x="3" y="19"><tspan class="k">B</tspan> = 17.4375</text></g>
<g id="oD4" transform="translate(1344.5,2667)"><rect class="b" width="44" height="21.5" rx="2"/><rect class="bk" width="44" height="11" rx="2"/><text class="t" x="3" y="8">Add</text><text class="a" x="3" y="19"><tspan class="k">B</tspan> ⟨1×1×24×26⟩</text></g>
<g id="oD5" transform="translate(1399.5,2667)"><rect class="b" width="44" height="21.5" rx="2"/><rect class="bk" width="44" height="11" rx="2"/><text class="t" x="3" y="8">Add</text><text class="a" x="3" y="19"><tspan class="k">B</tspan> ⟨1×1×24×26⟩</text></g>
<g id="oD6" transform="translate(1455.5,2667)"><rect class="b" width="44" height="21.5" rx="2"/><rect class="bk" width="44" height="11" rx="2"/><text class="t" x="3" y="8">Add</text><text class="a" x="3" y="19"><tspan class="k">B</tspan> ⟨1×1×24×26⟩</text></g>
<g id="oD7" transform="translate(1511,2667)"><rect class="b" width="41" height="21.5" rx="2"/><rect class="bk" width="41" height="11" rx="2"/><text class="t" x="3" y="8">Mul</text><text class="a" x="3" y="19"><tspan class="k">B</tspan> = 2.3125</text></g>
<g id="oD8" transform="translate(1563,2667)"><rect class="b" width="41" height="21.5" rx="2"/><rect class="bk" width="41" height="11" rx="2"/><text class="t" x="3" y="8">Mul</text><text class="a" x="3" y="19"><tspan class="k">B</tspan> = 7.4375</text></g>
<g id="oD9" transform="translate(1615,2667)"><rect class="b" width="41" height="21.5" rx="2"/><rect class="bk" width="41" height="11" rx="2"/><text class="t" x="3" y="8">Mul</text><text class="a" x="3" y="19"><tspan class="k">B</tspan> = 2.75</text></g>
<g id="oD10" transform="translate(1666.5,2667)"><rect class="b" width="44" height="21.5" rx="2"/><rect class="bk" width="44" height="11" rx="2"/><text class="t" x="3" y="8">Add</text><text class="a" x="3" y="19"><tspan class="k">B</tspan> ⟨1×1×24×26⟩</text></g>
<g id="oD11" transform="translate(1721.5,2667)"><rect class="b" width="44" height="21.5" rx="2"/><rect class="bk" width="44" height="11" rx="2"/><text class="t" x="3" y="8">Add</text><text class="a" x="3" y="19"><tspan class="k">B</tspan> ⟨1×1×24×26⟩</text></g>
<g id="oD12" transform="translate(1778.5,2667)"><rect class="b" width="44" height="21.5" rx="2"/><rect class="bk" width="44" height="11" rx="2"/><text class="t" x="3" y="8">Add</text><text class="a" x="3" y="19"><tspan class="k">B</tspan> ⟨1×1×24×26⟩</text></g>
<g id="kC1" transform="translate(480,2712)"><rect class="sh" width="26" height="11" rx="2"/><text class="t c" x="13" y="8">Concat</text></g>
<g id="kC2" transform="translate(803,2712)"><rect class="sh" width="26" height="11" rx="2"/><text class="t c" x="13" y="8">Concat</text></g>
<g id="kD1" transform="translate(1408,2712)"><rect class="sh" width="26" height="11" rx="2"/><text class="t c" x="13" y="8">Concat</text></g>
<g id="kD2" transform="translate(1732,2712)"><rect class="sh" width="26" height="11" rx="2"/><text class="t c" x="13" y="8">Concat</text></g>
<g id="dC1" transform="translate(473,2746)"><rect class="b" width="41" height="21.5" rx="2"/><rect class="bk" width="41" height="11" rx="2"/><text class="t" x="3" y="8">Div</text><text class="a" x="3" y="19"><tspan class="k">B</tspan> = 13</text></g>
<g id="dC2" transform="translate(796,2746)"><rect class="b" width="41" height="21.5" rx="2"/><rect class="bk" width="41" height="11" rx="2"/><text class="t" x="3" y="8">Div</text><text class="a" x="3" y="19"><tspan class="k">B</tspan> = 12</text></g>
<g id="dD1" transform="translate(1401,2746)"><rect class="b" width="41" height="21.5" rx="2"/><rect class="bk" width="41" height="11" rx="2"/><text class="t" x="3" y="8">Div</text><text class="a" x="3" y="19"><tspan class="k">B</tspan> = 26</text></g>
<g id="dD2" transform="translate(1725,2746)"><rect class="b" width="41" height="21.5" rx="2"/><rect class="bk" width="41" height="11" rx="2"/><text class="t" x="3" y="8">Div</text><text class="a" x="3" y="19"><tspan class="k">B</tspan> = 24</text></g>
<g id="rE1" transform="translate(504,2871)"><rect class="b" width="41" height="22" rx="2"/><rect class="sh" width="41" height="11" rx="2"/><text class="t" x="3" y="8">Reshape</text><text class="a" x="3" y="19"><tspan class="k">shape</tspan> ⟨2⟩</text></g>
<g id="rE2" transform="translate(435,2929)"><rect class="b" width="41" height="22" rx="2"/><rect class="sh" width="41" height="11" rx="2"/><text class="t" x="3" y="8">Reshape</text><text class="a" x="3" y="19"><tspan class="k">shape</tspan> ⟨2⟩</text></g>
<g id="mE1" transform="translate(490,2930)"><rect class="b" width="42" height="21.5" rx="2"/><rect class="bk" width="42" height="11" rx="2"/><text class="t" x="3" y="8">Mul</text><text class="a" x="3" y="19"><tspan class="k">B</tspan> = 0.5</text></g>
<g id="bE1" transform="translate(468,2974)"><rect class="bk" width="18" height="11" rx="2"/><text class="t c" x="9" y="8">Sub</text></g>
<g id="aE1" transform="translate(537,3008)"><rect class="bk" width="18" height="11" rx="2"/><text class="t c" x="9" y="8">Add</text></g>
<g id="qE1" transform="translate(430,3042)"><rect class="tf" width="37" height="11" rx="2"/><text class="t c" x="18.5" y="8">Unsqueeze</text></g>
<g id="qE2" transform="translate(479,3042)"><rect class="tf" width="37" height="11" rx="2"/><text class="t c" x="18.5" y="8">Unsqueeze</text></g>
<g id="qE3" transform="translate(527,3042)"><rect class="tf" width="37" height="11" rx="2"/><text class="t c" x="18.5" y="8">Unsqueeze</text></g>
<g id="rE3" transform="translate(831,2871)"><rect class="b" width="41" height="22" rx="2"/><rect class="sh" width="41" height="11" rx="2"/><text class="t" x="3" y="8">Reshape</text><text class="a" x="3" y="19"><tspan class="k">shape</tspan> ⟨2⟩</text></g>
<g id="rE4" transform="translate(764,2929)"><rect class="b" width="41" height="22" rx="2"/><rect class="sh" width="41" height="11" rx="2"/><text class="t" x="3" y="8">Reshape</text><text class="a" x="3" y="19"><tspan class="k">shape</tspan> ⟨2⟩</text></g>
<g id="mE2" transform="translate(820,2930)"><rect class="b" width="41" height="21.5" rx="2"/><rect class="bk" width="41" height="11" rx="2"/><text class="t" x="3" y="8">Mul</text><text class="a" x="3" y="19"><tspan class="k">B</tspan> = 0.5</text></g>
<g id="bE2" transform="translate(791,2974)"><rect class="bk" width="18" height="11" rx="2"/><text class="t c" x="9" y="8">Sub</text></g>
<g id="aE2" transform="translate(807,3008)"><rect class="bk" width="18" height="11" rx="2"/><text class="t c" x="9" y="8">Add</text></g>
<g id="qE4" transform="translate(798,3042)"><rect class="tf" width="37" height="11" rx="2"/><text class="t c" x="18.5" y="8">Unsqueeze</text></g>
<g id="kEF" transform="translate(480,3076)"><rect class="sh" width="26" height="11" rx="2"/><text class="t c" x="13" y="8">Concat</text></g>
<g id="rF1" transform="translate(1401,2871)"><rect class="b" width="41" height="22" rx="2"/><rect class="sh" width="41" height="11" rx="2"/><text class="t" x="3" y="8">Reshape</text><text class="a" x="3" y="19"><tspan class="k">shape</tspan> ⟨2⟩</text></g>
<g id="rF2" transform="translate(1317.5,2929)"><rect class="b" width="41" height="22" rx="2"/><rect class="sh" width="41" height="11" rx="2"/><text class="t" x="3" y="8">Reshape</text><text class="a" x="3" y="19"><tspan class="k">shape</tspan> ⟨2⟩</text></g>
<g id="mF1" transform="translate(1370,2930)"><rect class="b" width="41" height="21.5" rx="2"/><rect class="bk" width="41" height="11" rx="2"/><text class="t" x="3" y="8">Mul</text><text class="a" x="3" y="19"><tspan class="k">B</tspan> = 0.5</text></g>
<g id="bF1" transform="translate(1381,2974)"><rect class="bk" width="18" height="11" rx="2"/><text class="t c" x="9" y="8">Sub</text></g>
<g id="aF1" transform="translate(1412.5,3008)"><rect class="bk" width="18" height="11" rx="2"/><text class="t c" x="9" y="8">Add</text></g>
<g id="qF1" transform="translate(1306,3042)"><rect class="tf" width="37" height="11" rx="2"/><text class="t c" x="18.5" y="8">Unsqueeze</text></g>
<g id="qF2" transform="translate(1355,3042)"><rect class="tf" width="37" height="11" rx="2"/><text class="t c" x="18.5" y="8">Unsqueeze</text></g>
<g id="qF3" transform="translate(1403,3042)"><rect class="tf" width="37" height="11" rx="2"/><text class="t c" x="18.5" y="8">Unsqueeze</text></g>
<g id="rF3" transform="translate(1725,2871)"><rect class="b" width="41" height="22" rx="2"/><rect class="sh" width="41" height="11" rx="2"/><text class="t" x="3" y="8">Reshape</text><text class="a" x="3" y="19"><tspan class="k">shape</tspan> ⟨2⟩</text></g>
<g id="rF4" transform="translate(1642,2929)"><rect class="b" width="41" height="22" rx="2"/><rect class="sh" width="41" height="11" rx="2"/><text class="t" x="3" y="8">Reshape</text><text class="a" x="3" y="19"><tspan class="k">shape</tspan> ⟨2⟩</text></g>
<g id="mF2" transform="translate(1693.5,2930)"><rect class="b" width="41" height="21.5" rx="2"/><rect class="bk" width="41" height="11" rx="2"/><text class="t" x="3" y="8">Mul</text><text class="a" x="3" y="19"><tspan class="k">B</tspan> = 0.5</text></g>
<g id="bF2" transform="translate(1705,2974)"><rect class="bk" width="18" height="11" rx="2"/><text class="t c" x="9" y="8">Sub</text></g>
<g id="aF2" transform="translate(1736.5,3008)"><rect class="bk" width="18" height="11" rx="2"/><text class="t c" x="9" y="8">Add</text></g>
<g id="qF4" transform="translate(1727,3042)"><rect class="tf" width="37" height="11" rx="2"/><text class="t c" x="18.5" y="8">Unsqueeze</text></g>
<g id="kFF" transform="translate(1431,3076)"><rect class="sh" width="26" height="11" rx="2"/><text class="t c" x="13" y="8">Concat</text></g>
<g id="kFinal" transform="translate(954,3107)"><rect class="sh" width="26" height="11" rx="2"/><text class="t c" x="13" y="8">Concat</text></g>
<g id="output" transform="translate(954,3141)"><rect class="io" width="26" height="10" rx="2"/><text class="a c" x="13" y="7" style="font-size:5.6px">output</text></g>
</g>
</svg>
